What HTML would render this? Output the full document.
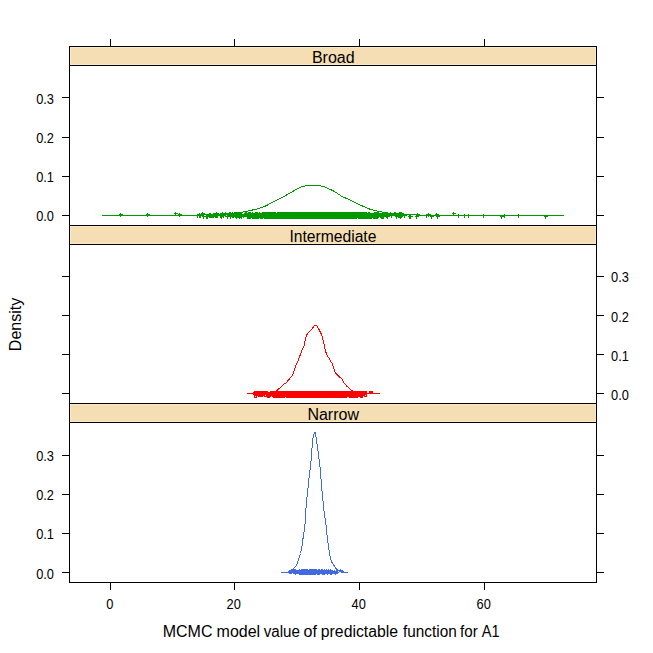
<!DOCTYPE html>
<html><head><meta charset="utf-8"><title>densityplot</title>
<style>html,body{margin:0;padding:0;background:#fff;width:653px;height:653px;overflow:hidden}svg{display:block}text{font-family:"Liberation Sans",Arial,sans-serif;fill:#000}</style>
</head><body>
<svg width="653" height="653" viewBox="0 0 653 653">
<rect width="653" height="653" fill="#fff"/>
<rect x="70" y="47" width="526" height="18" fill="#f5deb3"/>
<rect x="70.5" y="47.5" width="525" height="17" fill="none" stroke="#fbe7c3" stroke-width="1"/>
<rect x="70" y="226" width="526" height="18" fill="#f5deb3"/>
<rect x="70.5" y="226.5" width="525" height="17" fill="none" stroke="#fbe7c3" stroke-width="1"/>
<rect x="70" y="404" width="526" height="18" fill="#f5deb3"/>
<rect x="70.5" y="404.5" width="525" height="17" fill="none" stroke="#fbe7c3" stroke-width="1"/>
<rect x="69" y="46" width="528" height="1" fill="#000"/>
<rect x="69" y="65" width="528" height="1" fill="#000"/>
<rect x="69" y="225" width="528" height="1" fill="#000"/>
<rect x="69" y="244" width="528" height="1" fill="#000"/>
<rect x="69" y="403" width="528" height="1" fill="#000"/>
<rect x="69" y="422" width="528" height="1" fill="#000"/>
<rect x="69" y="582" width="528" height="1" fill="#000"/>
<rect x="69" y="46" width="1" height="537" fill="#000"/>
<rect x="596" y="46" width="1" height="537" fill="#000"/>
<rect x="110" y="39" width="1" height="7" fill="#000"/>
<rect x="110" y="583" width="1" height="7" fill="#000"/>
<rect x="234" y="39" width="1" height="7" fill="#000"/>
<rect x="234" y="583" width="1" height="7" fill="#000"/>
<rect x="359" y="39" width="1" height="7" fill="#000"/>
<rect x="359" y="583" width="1" height="7" fill="#000"/>
<rect x="484" y="39" width="1" height="7" fill="#000"/>
<rect x="484" y="583" width="1" height="7" fill="#000"/>
<rect x="62" y="97" width="7" height="1" fill="#000"/>
<rect x="597" y="97" width="7" height="1" fill="#000"/>
<rect x="62" y="137" width="7" height="1" fill="#000"/>
<rect x="597" y="137" width="7" height="1" fill="#000"/>
<rect x="62" y="176" width="7" height="1" fill="#000"/>
<rect x="597" y="176" width="7" height="1" fill="#000"/>
<rect x="62" y="215" width="7" height="1" fill="#000"/>
<rect x="597" y="215" width="7" height="1" fill="#000"/>
<rect x="62" y="276" width="7" height="1" fill="#000"/>
<rect x="597" y="276" width="7" height="1" fill="#000"/>
<rect x="62" y="315" width="7" height="1" fill="#000"/>
<rect x="597" y="315" width="7" height="1" fill="#000"/>
<rect x="62" y="354" width="7" height="1" fill="#000"/>
<rect x="597" y="354" width="7" height="1" fill="#000"/>
<rect x="62" y="393" width="7" height="1" fill="#000"/>
<rect x="597" y="393" width="7" height="1" fill="#000"/>
<rect x="62" y="455" width="7" height="1" fill="#000"/>
<rect x="597" y="455" width="7" height="1" fill="#000"/>
<rect x="62" y="494" width="7" height="1" fill="#000"/>
<rect x="597" y="494" width="7" height="1" fill="#000"/>
<rect x="62" y="533" width="7" height="1" fill="#000"/>
<rect x="597" y="533" width="7" height="1" fill="#000"/>
<rect x="62" y="572" width="7" height="1" fill="#000"/>
<rect x="597" y="572" width="7" height="1" fill="#000"/>
<polyline points="102.0,215.5 150.0,215.5 190.0,215.2 215.0,214.6 230.0,213.6 239.5,212.6 246.0,211.6 250.5,210.5 255.1,209.4 258.8,208.5 264.5,206.6 274.3,201.3 282.9,197.0 291.5,192.2 298.8,188.0 303.0,186.4 307.4,185.6 313.0,185.4 319.7,185.6 325.9,187.3 334.5,191.5 341.9,196.4 350.4,200.1 359.0,204.4 366.4,207.8 370.0,209.2 373.7,210.1 379.2,211.5 385.0,212.6 395.0,213.8 410.0,214.8 430.0,215.3 460.0,215.5 563.8,215.5" fill="none" stroke="#009900" stroke-width="1" shape-rendering="crispEdges"/>
<polyline points="246.9,393.5 265.0,393.3 272.0,392.5 276.7,390.8 279.8,388.0 283.5,384.3 285.9,383.1 289.0,379.4 292.1,375.8 293.9,371.5 295.7,366.0 298.2,360.4 300.0,355.5 301.9,350.6 304.3,345.1 305.5,339.0 306.8,334.7 309.2,331.6 312.3,328.6 314.7,325.3 316.6,325.7 319.2,329.8 321.6,334.7 322.9,339.6 324.1,344.5 325.3,350.6 327.2,355.5 329.6,359.2 332.1,363.5 333.9,369.0 335.7,373.3 338.8,376.4 341.9,378.8 343.7,382.5 346.8,386.2 351.7,390.5 356.0,392.5 362.0,393.3 379.7,393.5" fill="none" stroke="#ff0000" stroke-width="1" shape-rendering="crispEdges"/>
<polyline points="280.9,572.5 287.5,572.4 289.5,571.5 291.4,570.4 293.0,569.0 294.6,567.4 296.3,565.8 297.4,563.5 298.4,559.5 299.5,556.8 300.5,553.5 301.6,549.0 302.7,540.4 303.9,533.1 305.1,523.3 305.7,510.4 306.3,505.0 307.2,494.9 308.4,485.0 309.4,474.0 310.6,466.0 311.6,454.4 312.5,440.9 313.5,434.8 315.1,432.4 316.0,436.6 317.2,445.2 318.8,456.9 320.0,466.7 321.2,481.4 322.3,494.9 323.3,503.4 324.1,512.3 326.0,524.5 327.2,537.0 327.6,540.0 328.4,546.0 329.6,554.5 330.5,558.5 331.6,561.8 333.4,564.4 334.8,566.7 336.0,568.5 337.7,570.2 339.8,571.4 341.5,572.4 347.8,572.5" fill="none" stroke="#4169e1" stroke-width="1" shape-rendering="crispEdges"/>
<path d="M119 214h4v1h-4zM120 213h1v4h-1zM146 214h4v1h-4zM147 213h1v4h-1zM174 213h4v1h-4zM175 212h1v4h-1zM178 214h4v1h-4zM179 213h1v4h-1zM196 215h4v1h-4zM197 214h1v4h-1zM198 214h4v1h-4zM199 213h1v4h-1zM198 215h4v1h-4zM199 214h1v4h-1zM199 215h4v1h-4zM200 214h1v4h-1zM201 213h4v1h-4zM202 212h1v4h-1zM202 216h4v1h-4zM203 215h1v4h-1zM205 216h4v1h-4zM206 215h1v4h-1zM206 215h4v1h-4zM207 214h1v4h-1zM206 216h4v1h-4zM207 215h1v4h-1zM208 214h4v1h-4zM209 213h1v4h-1zM208 215h4v1h-4zM209 214h1v4h-1zM209 214h4v1h-4zM210 213h1v4h-1zM209 215h4v1h-4zM210 214h1v4h-1zM210 215h4v1h-4zM211 214h1v4h-1zM211 215h4v1h-4zM212 214h1v4h-1zM212 214h4v1h-4zM213 213h1v4h-1zM212 215h4v1h-4zM213 214h1v4h-1zM213 214h4v1h-4zM214 213h1v4h-1zM214 214h4v1h-4zM215 213h1v4h-1zM214 215h4v1h-4zM215 214h1v4h-1zM215 213h4v1h-4zM216 212h1v4h-1zM215 215h4v1h-4zM216 214h1v4h-1zM216 215h4v1h-4zM217 214h1v4h-1zM219 214h4v1h-4zM220 213h1v4h-1zM219 215h4v1h-4zM220 214h1v4h-1zM220 215h4v1h-4zM221 214h1v4h-1zM220 216h4v1h-4zM221 215h1v4h-1zM221 213h4v1h-4zM222 212h1v4h-1zM222 215h4v1h-4zM223 214h1v4h-1zM224 213h4v1h-4zM225 212h1v4h-1zM224 214h4v1h-4zM225 213h1v4h-1zM226 214h4v1h-4zM227 213h1v4h-1zM226 216h4v1h-4zM227 215h1v4h-1zM227 214h4v1h-4zM228 213h1v4h-1zM228 213h4v1h-4zM229 212h1v4h-1zM228 214h4v1h-4zM229 213h1v4h-1zM229 213h4v1h-4zM230 212h1v4h-1zM229 214h4v1h-4zM230 213h1v4h-1zM229 215h4v1h-4zM230 214h1v4h-1zM229 216h4v1h-4zM230 215h1v4h-1zM231 213h4v1h-4zM232 212h1v4h-1zM231 215h4v1h-4zM232 214h1v4h-1zM232 215h4v1h-4zM233 214h1v4h-1zM233 213h4v1h-4zM234 212h1v4h-1zM233 214h4v1h-4zM234 213h1v4h-1zM234 213h4v1h-4zM235 212h1v4h-1zM234 214h4v1h-4zM235 213h1v4h-1zM234 215h4v1h-4zM235 214h1v4h-1zM235 214h4v1h-4zM236 213h1v4h-1zM235 215h4v1h-4zM236 214h1v4h-1zM235 216h4v1h-4zM236 215h1v4h-1zM236 213h4v1h-4zM237 212h1v4h-1zM236 215h4v1h-4zM237 214h1v4h-1zM237 214h4v1h-4zM238 213h1v4h-1zM237 215h4v1h-4zM238 214h1v4h-1zM238 215h4v1h-4zM239 214h1v4h-1zM238 216h4v1h-4zM239 215h1v4h-1zM239 214h4v1h-4zM240 213h1v4h-1zM239 215h4v1h-4zM240 214h1v4h-1zM240 214h4v1h-4zM241 213h1v4h-1zM240 215h4v1h-4zM241 214h1v4h-1zM240 216h4v1h-4zM241 215h1v4h-1zM242 215h4v1h-4zM243 214h1v4h-1zM243 214h4v1h-4zM244 213h1v4h-1zM244 213h4v1h-4zM245 212h1v4h-1zM244 214h4v1h-4zM245 213h1v4h-1zM245 213h4v1h-4zM246 212h1v4h-1zM246 214h4v1h-4zM247 213h1v4h-1zM246 215h4v1h-4zM247 214h1v4h-1zM246 216h4v1h-4zM247 215h1v4h-1zM247 213h4v1h-4zM248 212h1v4h-1zM247 214h4v1h-4zM248 213h1v4h-1zM247 215h4v1h-4zM248 214h1v4h-1zM247 216h4v1h-4zM248 215h1v4h-1zM248 213h4v1h-4zM249 212h1v4h-1zM248 214h4v1h-4zM249 213h1v4h-1zM248 215h4v1h-4zM249 214h1v4h-1zM248 216h4v1h-4zM249 215h1v4h-1zM249 213h4v1h-4zM250 212h1v4h-1zM249 214h4v1h-4zM250 213h1v4h-1zM249 215h4v1h-4zM250 214h1v4h-1zM249 216h4v1h-4zM250 215h1v4h-1zM250 214h4v1h-4zM251 213h1v4h-1zM250 215h4v1h-4zM251 214h1v4h-1zM251 213h4v1h-4zM252 212h1v4h-1zM251 214h4v1h-4zM252 213h1v4h-1zM251 215h4v1h-4zM252 214h1v4h-1zM251 216h4v1h-4zM252 215h1v4h-1zM252 214h4v1h-4zM253 213h1v4h-1zM252 215h4v1h-4zM253 214h1v4h-1zM252 216h4v1h-4zM253 215h1v4h-1zM253 214h4v1h-4zM254 213h1v4h-1zM253 215h4v1h-4zM254 214h1v4h-1zM253 216h4v1h-4zM254 215h1v4h-1zM254 213h4v1h-4zM255 212h1v4h-1zM254 214h4v1h-4zM255 213h1v4h-1zM254 215h4v1h-4zM255 214h1v4h-1zM254 216h4v1h-4zM255 215h1v4h-1zM255 213h4v1h-4zM256 212h1v4h-1zM255 214h4v1h-4zM256 213h1v4h-1zM255 216h4v1h-4zM256 215h1v4h-1zM256 213h4v1h-4zM257 212h1v4h-1zM256 214h4v1h-4zM257 213h1v4h-1zM256 215h4v1h-4zM257 214h1v4h-1zM256 216h4v1h-4zM257 215h1v4h-1zM257 214h4v1h-4zM258 213h1v4h-1zM257 215h4v1h-4zM258 214h1v4h-1zM257 216h4v1h-4zM258 215h1v4h-1zM258 213h4v1h-4zM259 212h1v4h-1zM258 214h4v1h-4zM259 213h1v4h-1zM258 215h4v1h-4zM259 214h1v4h-1zM259 214h4v1h-4zM260 213h1v4h-1zM259 215h4v1h-4zM260 214h1v4h-1zM259 216h4v1h-4zM260 215h1v4h-1zM260 214h4v1h-4zM261 213h1v4h-1zM260 215h4v1h-4zM261 214h1v4h-1zM260 216h4v1h-4zM261 215h1v4h-1zM261 213h4v1h-4zM262 212h1v4h-1zM261 214h4v1h-4zM262 213h1v4h-1zM261 215h4v1h-4zM262 214h1v4h-1zM261 216h4v1h-4zM262 215h1v4h-1zM262 213h4v1h-4zM263 212h1v4h-1zM262 214h4v1h-4zM263 213h1v4h-1zM262 215h4v1h-4zM263 214h1v4h-1zM263 213h4v1h-4zM264 212h1v4h-1zM263 214h4v1h-4zM264 213h1v4h-1zM263 215h4v1h-4zM264 214h1v4h-1zM263 216h4v1h-4zM264 215h1v4h-1zM264 213h4v1h-4zM265 212h1v4h-1zM264 214h4v1h-4zM265 213h1v4h-1zM264 215h4v1h-4zM265 214h1v4h-1zM264 216h4v1h-4zM265 215h1v4h-1zM265 213h4v1h-4zM266 212h1v4h-1zM265 214h4v1h-4zM266 213h1v4h-1zM265 215h4v1h-4zM266 214h1v4h-1zM265 216h4v1h-4zM266 215h1v4h-1zM266 213h4v1h-4zM267 212h1v4h-1zM266 214h4v1h-4zM267 213h1v4h-1zM266 215h4v1h-4zM267 214h1v4h-1zM266 216h4v1h-4zM267 215h1v4h-1zM267 213h4v1h-4zM268 212h1v4h-1zM267 214h4v1h-4zM268 213h1v4h-1zM267 215h4v1h-4zM268 214h1v4h-1zM267 216h4v1h-4zM268 215h1v4h-1zM268 213h4v1h-4zM269 212h1v4h-1zM268 214h4v1h-4zM269 213h1v4h-1zM268 215h4v1h-4zM269 214h1v4h-1zM268 216h4v1h-4zM269 215h1v4h-1zM269 213h4v1h-4zM270 212h1v4h-1zM269 214h4v1h-4zM270 213h1v4h-1zM269 215h4v1h-4zM270 214h1v4h-1zM269 216h4v1h-4zM270 215h1v4h-1zM270 213h4v1h-4zM271 212h1v4h-1zM270 214h4v1h-4zM271 213h1v4h-1zM270 215h4v1h-4zM271 214h1v4h-1zM270 216h4v1h-4zM271 215h1v4h-1zM271 213h4v1h-4zM272 212h1v4h-1zM271 214h4v1h-4zM272 213h1v4h-1zM271 215h4v1h-4zM272 214h1v4h-1zM271 216h4v1h-4zM272 215h1v4h-1zM272 213h4v1h-4zM273 212h1v4h-1zM272 214h4v1h-4zM273 213h1v4h-1zM272 215h4v1h-4zM273 214h1v4h-1zM272 216h4v1h-4zM273 215h1v4h-1zM273 213h4v1h-4zM274 212h1v4h-1zM273 214h4v1h-4zM274 213h1v4h-1zM273 215h4v1h-4zM274 214h1v4h-1zM273 216h4v1h-4zM274 215h1v4h-1zM274 213h4v1h-4zM275 212h1v4h-1zM274 214h4v1h-4zM275 213h1v4h-1zM274 215h4v1h-4zM275 214h1v4h-1zM274 216h4v1h-4zM275 215h1v4h-1zM275 214h4v1h-4zM276 213h1v4h-1zM275 215h4v1h-4zM276 214h1v4h-1zM275 216h4v1h-4zM276 215h1v4h-1zM276 213h4v1h-4zM277 212h1v4h-1zM276 214h4v1h-4zM277 213h1v4h-1zM276 215h4v1h-4zM277 214h1v4h-1zM276 216h4v1h-4zM277 215h1v4h-1zM277 213h4v1h-4zM278 212h1v4h-1zM277 214h4v1h-4zM278 213h1v4h-1zM277 215h4v1h-4zM278 214h1v4h-1zM277 216h4v1h-4zM278 215h1v4h-1zM278 213h4v1h-4zM279 212h1v4h-1zM278 214h4v1h-4zM279 213h1v4h-1zM278 215h4v1h-4zM279 214h1v4h-1zM278 216h4v1h-4zM279 215h1v4h-1zM279 213h4v1h-4zM280 212h1v4h-1zM279 214h4v1h-4zM280 213h1v4h-1zM279 215h4v1h-4zM280 214h1v4h-1zM279 216h4v1h-4zM280 215h1v4h-1zM280 213h4v1h-4zM281 212h1v4h-1zM280 214h4v1h-4zM281 213h1v4h-1zM280 215h4v1h-4zM281 214h1v4h-1zM280 216h4v1h-4zM281 215h1v4h-1zM281 213h4v1h-4zM282 212h1v4h-1zM281 214h4v1h-4zM282 213h1v4h-1zM281 215h4v1h-4zM282 214h1v4h-1zM281 216h4v1h-4zM282 215h1v4h-1zM282 213h4v1h-4zM283 212h1v4h-1zM282 214h4v1h-4zM283 213h1v4h-1zM282 215h4v1h-4zM283 214h1v4h-1zM282 216h4v1h-4zM283 215h1v4h-1zM283 213h4v1h-4zM284 212h1v4h-1zM283 214h4v1h-4zM284 213h1v4h-1zM283 215h4v1h-4zM284 214h1v4h-1zM283 216h4v1h-4zM284 215h1v4h-1zM284 213h4v1h-4zM285 212h1v4h-1zM284 214h4v1h-4zM285 213h1v4h-1zM284 215h4v1h-4zM285 214h1v4h-1zM284 216h4v1h-4zM285 215h1v4h-1zM285 213h4v1h-4zM286 212h1v4h-1zM285 214h4v1h-4zM286 213h1v4h-1zM285 215h4v1h-4zM286 214h1v4h-1zM285 216h4v1h-4zM286 215h1v4h-1zM286 213h4v1h-4zM287 212h1v4h-1zM286 214h4v1h-4zM287 213h1v4h-1zM286 215h4v1h-4zM287 214h1v4h-1zM286 216h4v1h-4zM287 215h1v4h-1zM287 213h4v1h-4zM288 212h1v4h-1zM287 214h4v1h-4zM288 213h1v4h-1zM287 215h4v1h-4zM288 214h1v4h-1zM287 216h4v1h-4zM288 215h1v4h-1zM288 213h4v1h-4zM289 212h1v4h-1zM288 214h4v1h-4zM289 213h1v4h-1zM288 215h4v1h-4zM289 214h1v4h-1zM288 216h4v1h-4zM289 215h1v4h-1zM289 213h4v1h-4zM290 212h1v4h-1zM289 214h4v1h-4zM290 213h1v4h-1zM289 215h4v1h-4zM290 214h1v4h-1zM289 216h4v1h-4zM290 215h1v4h-1zM290 213h4v1h-4zM291 212h1v4h-1zM290 214h4v1h-4zM291 213h1v4h-1zM290 215h4v1h-4zM291 214h1v4h-1zM290 216h4v1h-4zM291 215h1v4h-1zM291 213h4v1h-4zM292 212h1v4h-1zM291 214h4v1h-4zM292 213h1v4h-1zM291 215h4v1h-4zM292 214h1v4h-1zM291 216h4v1h-4zM292 215h1v4h-1zM292 213h4v1h-4zM293 212h1v4h-1zM292 214h4v1h-4zM293 213h1v4h-1zM292 215h4v1h-4zM293 214h1v4h-1zM292 216h4v1h-4zM293 215h1v4h-1zM293 213h4v1h-4zM294 212h1v4h-1zM293 214h4v1h-4zM294 213h1v4h-1zM293 215h4v1h-4zM294 214h1v4h-1zM293 216h4v1h-4zM294 215h1v4h-1zM294 213h4v1h-4zM295 212h1v4h-1zM294 214h4v1h-4zM295 213h1v4h-1zM294 215h4v1h-4zM295 214h1v4h-1zM294 216h4v1h-4zM295 215h1v4h-1zM295 213h4v1h-4zM296 212h1v4h-1zM295 214h4v1h-4zM296 213h1v4h-1zM295 215h4v1h-4zM296 214h1v4h-1zM295 216h4v1h-4zM296 215h1v4h-1zM296 213h4v1h-4zM297 212h1v4h-1zM296 214h4v1h-4zM297 213h1v4h-1zM296 215h4v1h-4zM297 214h1v4h-1zM296 216h4v1h-4zM297 215h1v4h-1zM297 213h4v1h-4zM298 212h1v4h-1zM297 214h4v1h-4zM298 213h1v4h-1zM297 215h4v1h-4zM298 214h1v4h-1zM297 216h4v1h-4zM298 215h1v4h-1zM298 213h4v1h-4zM299 212h1v4h-1zM298 214h4v1h-4zM299 213h1v4h-1zM298 215h4v1h-4zM299 214h1v4h-1zM298 216h4v1h-4zM299 215h1v4h-1zM299 213h4v1h-4zM300 212h1v4h-1zM299 214h4v1h-4zM300 213h1v4h-1zM299 215h4v1h-4zM300 214h1v4h-1zM299 216h4v1h-4zM300 215h1v4h-1zM300 213h4v1h-4zM301 212h1v4h-1zM300 214h4v1h-4zM301 213h1v4h-1zM300 215h4v1h-4zM301 214h1v4h-1zM300 216h4v1h-4zM301 215h1v4h-1zM301 213h4v1h-4zM302 212h1v4h-1zM301 214h4v1h-4zM302 213h1v4h-1zM301 215h4v1h-4zM302 214h1v4h-1zM301 216h4v1h-4zM302 215h1v4h-1zM302 213h4v1h-4zM303 212h1v4h-1zM302 214h4v1h-4zM303 213h1v4h-1zM302 215h4v1h-4zM303 214h1v4h-1zM302 216h4v1h-4zM303 215h1v4h-1zM303 213h4v1h-4zM304 212h1v4h-1zM303 214h4v1h-4zM304 213h1v4h-1zM303 215h4v1h-4zM304 214h1v4h-1zM303 216h4v1h-4zM304 215h1v4h-1zM304 213h4v1h-4zM305 212h1v4h-1zM304 214h4v1h-4zM305 213h1v4h-1zM304 215h4v1h-4zM305 214h1v4h-1zM304 216h4v1h-4zM305 215h1v4h-1zM305 213h4v1h-4zM306 212h1v4h-1zM305 214h4v1h-4zM306 213h1v4h-1zM305 215h4v1h-4zM306 214h1v4h-1zM305 216h4v1h-4zM306 215h1v4h-1zM306 213h4v1h-4zM307 212h1v4h-1zM306 214h4v1h-4zM307 213h1v4h-1zM306 215h4v1h-4zM307 214h1v4h-1zM306 216h4v1h-4zM307 215h1v4h-1zM307 213h4v1h-4zM308 212h1v4h-1zM307 214h4v1h-4zM308 213h1v4h-1zM307 215h4v1h-4zM308 214h1v4h-1zM307 216h4v1h-4zM308 215h1v4h-1zM308 213h4v1h-4zM309 212h1v4h-1zM308 214h4v1h-4zM309 213h1v4h-1zM308 215h4v1h-4zM309 214h1v4h-1zM308 216h4v1h-4zM309 215h1v4h-1zM309 213h4v1h-4zM310 212h1v4h-1zM309 214h4v1h-4zM310 213h1v4h-1zM309 215h4v1h-4zM310 214h1v4h-1zM309 216h4v1h-4zM310 215h1v4h-1zM310 213h4v1h-4zM311 212h1v4h-1zM310 214h4v1h-4zM311 213h1v4h-1zM310 215h4v1h-4zM311 214h1v4h-1zM310 216h4v1h-4zM311 215h1v4h-1zM311 213h4v1h-4zM312 212h1v4h-1zM311 214h4v1h-4zM312 213h1v4h-1zM311 215h4v1h-4zM312 214h1v4h-1zM311 216h4v1h-4zM312 215h1v4h-1zM312 213h4v1h-4zM313 212h1v4h-1zM312 214h4v1h-4zM313 213h1v4h-1zM312 215h4v1h-4zM313 214h1v4h-1zM312 216h4v1h-4zM313 215h1v4h-1zM313 213h4v1h-4zM314 212h1v4h-1zM313 214h4v1h-4zM314 213h1v4h-1zM313 215h4v1h-4zM314 214h1v4h-1zM313 216h4v1h-4zM314 215h1v4h-1zM314 213h4v1h-4zM315 212h1v4h-1zM314 214h4v1h-4zM315 213h1v4h-1zM314 215h4v1h-4zM315 214h1v4h-1zM314 216h4v1h-4zM315 215h1v4h-1zM315 213h4v1h-4zM316 212h1v4h-1zM315 214h4v1h-4zM316 213h1v4h-1zM315 215h4v1h-4zM316 214h1v4h-1zM315 216h4v1h-4zM316 215h1v4h-1zM316 213h4v1h-4zM317 212h1v4h-1zM316 214h4v1h-4zM317 213h1v4h-1zM316 215h4v1h-4zM317 214h1v4h-1zM316 216h4v1h-4zM317 215h1v4h-1zM317 213h4v1h-4zM318 212h1v4h-1zM317 214h4v1h-4zM318 213h1v4h-1zM317 215h4v1h-4zM318 214h1v4h-1zM317 216h4v1h-4zM318 215h1v4h-1zM318 213h4v1h-4zM319 212h1v4h-1zM318 214h4v1h-4zM319 213h1v4h-1zM318 215h4v1h-4zM319 214h1v4h-1zM318 216h4v1h-4zM319 215h1v4h-1zM319 213h4v1h-4zM320 212h1v4h-1zM319 214h4v1h-4zM320 213h1v4h-1zM319 215h4v1h-4zM320 214h1v4h-1zM319 216h4v1h-4zM320 215h1v4h-1zM320 213h4v1h-4zM321 212h1v4h-1zM320 214h4v1h-4zM321 213h1v4h-1zM320 215h4v1h-4zM321 214h1v4h-1zM320 216h4v1h-4zM321 215h1v4h-1zM321 213h4v1h-4zM322 212h1v4h-1zM321 214h4v1h-4zM322 213h1v4h-1zM321 215h4v1h-4zM322 214h1v4h-1zM321 216h4v1h-4zM322 215h1v4h-1zM322 213h4v1h-4zM323 212h1v4h-1zM322 214h4v1h-4zM323 213h1v4h-1zM322 215h4v1h-4zM323 214h1v4h-1zM322 216h4v1h-4zM323 215h1v4h-1zM323 213h4v1h-4zM324 212h1v4h-1zM323 214h4v1h-4zM324 213h1v4h-1zM323 215h4v1h-4zM324 214h1v4h-1zM323 216h4v1h-4zM324 215h1v4h-1zM324 213h4v1h-4zM325 212h1v4h-1zM324 214h4v1h-4zM325 213h1v4h-1zM324 215h4v1h-4zM325 214h1v4h-1zM324 216h4v1h-4zM325 215h1v4h-1zM325 213h4v1h-4zM326 212h1v4h-1zM325 214h4v1h-4zM326 213h1v4h-1zM325 215h4v1h-4zM326 214h1v4h-1zM325 216h4v1h-4zM326 215h1v4h-1zM326 213h4v1h-4zM327 212h1v4h-1zM326 214h4v1h-4zM327 213h1v4h-1zM326 215h4v1h-4zM327 214h1v4h-1zM326 216h4v1h-4zM327 215h1v4h-1zM327 213h4v1h-4zM328 212h1v4h-1zM327 214h4v1h-4zM328 213h1v4h-1zM327 215h4v1h-4zM328 214h1v4h-1zM327 216h4v1h-4zM328 215h1v4h-1zM328 213h4v1h-4zM329 212h1v4h-1zM328 214h4v1h-4zM329 213h1v4h-1zM328 215h4v1h-4zM329 214h1v4h-1zM328 216h4v1h-4zM329 215h1v4h-1zM329 213h4v1h-4zM330 212h1v4h-1zM329 214h4v1h-4zM330 213h1v4h-1zM329 215h4v1h-4zM330 214h1v4h-1zM329 216h4v1h-4zM330 215h1v4h-1zM330 213h4v1h-4zM331 212h1v4h-1zM330 214h4v1h-4zM331 213h1v4h-1zM330 215h4v1h-4zM331 214h1v4h-1zM330 216h4v1h-4zM331 215h1v4h-1zM331 213h4v1h-4zM332 212h1v4h-1zM331 214h4v1h-4zM332 213h1v4h-1zM331 215h4v1h-4zM332 214h1v4h-1zM331 216h4v1h-4zM332 215h1v4h-1zM332 213h4v1h-4zM333 212h1v4h-1zM332 214h4v1h-4zM333 213h1v4h-1zM332 215h4v1h-4zM333 214h1v4h-1zM332 216h4v1h-4zM333 215h1v4h-1zM333 213h4v1h-4zM334 212h1v4h-1zM333 214h4v1h-4zM334 213h1v4h-1zM333 215h4v1h-4zM334 214h1v4h-1zM333 216h4v1h-4zM334 215h1v4h-1zM334 213h4v1h-4zM335 212h1v4h-1zM334 214h4v1h-4zM335 213h1v4h-1zM334 215h4v1h-4zM335 214h1v4h-1zM334 216h4v1h-4zM335 215h1v4h-1zM335 213h4v1h-4zM336 212h1v4h-1zM335 214h4v1h-4zM336 213h1v4h-1zM335 215h4v1h-4zM336 214h1v4h-1zM335 216h4v1h-4zM336 215h1v4h-1zM336 213h4v1h-4zM337 212h1v4h-1zM336 214h4v1h-4zM337 213h1v4h-1zM336 215h4v1h-4zM337 214h1v4h-1zM336 216h4v1h-4zM337 215h1v4h-1zM337 213h4v1h-4zM338 212h1v4h-1zM337 214h4v1h-4zM338 213h1v4h-1zM337 215h4v1h-4zM338 214h1v4h-1zM337 216h4v1h-4zM338 215h1v4h-1zM338 213h4v1h-4zM339 212h1v4h-1zM338 214h4v1h-4zM339 213h1v4h-1zM338 215h4v1h-4zM339 214h1v4h-1zM338 216h4v1h-4zM339 215h1v4h-1zM339 213h4v1h-4zM340 212h1v4h-1zM339 214h4v1h-4zM340 213h1v4h-1zM339 215h4v1h-4zM340 214h1v4h-1zM339 216h4v1h-4zM340 215h1v4h-1zM340 213h4v1h-4zM341 212h1v4h-1zM340 214h4v1h-4zM341 213h1v4h-1zM340 215h4v1h-4zM341 214h1v4h-1zM340 216h4v1h-4zM341 215h1v4h-1zM341 213h4v1h-4zM342 212h1v4h-1zM341 214h4v1h-4zM342 213h1v4h-1zM341 215h4v1h-4zM342 214h1v4h-1zM341 216h4v1h-4zM342 215h1v4h-1zM342 213h4v1h-4zM343 212h1v4h-1zM342 214h4v1h-4zM343 213h1v4h-1zM342 215h4v1h-4zM343 214h1v4h-1zM342 216h4v1h-4zM343 215h1v4h-1zM343 213h4v1h-4zM344 212h1v4h-1zM343 214h4v1h-4zM344 213h1v4h-1zM343 215h4v1h-4zM344 214h1v4h-1zM343 216h4v1h-4zM344 215h1v4h-1zM344 213h4v1h-4zM345 212h1v4h-1zM344 214h4v1h-4zM345 213h1v4h-1zM344 215h4v1h-4zM345 214h1v4h-1zM344 216h4v1h-4zM345 215h1v4h-1zM345 213h4v1h-4zM346 212h1v4h-1zM345 214h4v1h-4zM346 213h1v4h-1zM345 215h4v1h-4zM346 214h1v4h-1zM345 216h4v1h-4zM346 215h1v4h-1zM346 213h4v1h-4zM347 212h1v4h-1zM346 214h4v1h-4zM347 213h1v4h-1zM346 215h4v1h-4zM347 214h1v4h-1zM346 216h4v1h-4zM347 215h1v4h-1zM347 213h4v1h-4zM348 212h1v4h-1zM347 214h4v1h-4zM348 213h1v4h-1zM347 215h4v1h-4zM348 214h1v4h-1zM347 216h4v1h-4zM348 215h1v4h-1zM348 213h4v1h-4zM349 212h1v4h-1zM348 214h4v1h-4zM349 213h1v4h-1zM348 215h4v1h-4zM349 214h1v4h-1zM348 216h4v1h-4zM349 215h1v4h-1zM349 213h4v1h-4zM350 212h1v4h-1zM349 214h4v1h-4zM350 213h1v4h-1zM349 215h4v1h-4zM350 214h1v4h-1zM349 216h4v1h-4zM350 215h1v4h-1zM350 213h4v1h-4zM351 212h1v4h-1zM350 214h4v1h-4zM351 213h1v4h-1zM350 215h4v1h-4zM351 214h1v4h-1zM350 216h4v1h-4zM351 215h1v4h-1zM351 213h4v1h-4zM352 212h1v4h-1zM351 214h4v1h-4zM352 213h1v4h-1zM351 215h4v1h-4zM352 214h1v4h-1zM351 216h4v1h-4zM352 215h1v4h-1zM352 213h4v1h-4zM353 212h1v4h-1zM352 214h4v1h-4zM353 213h1v4h-1zM352 215h4v1h-4zM353 214h1v4h-1zM352 216h4v1h-4zM353 215h1v4h-1zM353 213h4v1h-4zM354 212h1v4h-1zM353 214h4v1h-4zM354 213h1v4h-1zM353 215h4v1h-4zM354 214h1v4h-1zM353 216h4v1h-4zM354 215h1v4h-1zM354 213h4v1h-4zM355 212h1v4h-1zM354 214h4v1h-4zM355 213h1v4h-1zM354 215h4v1h-4zM355 214h1v4h-1zM354 216h4v1h-4zM355 215h1v4h-1zM355 213h4v1h-4zM356 212h1v4h-1zM355 214h4v1h-4zM356 213h1v4h-1zM355 215h4v1h-4zM356 214h1v4h-1zM355 216h4v1h-4zM356 215h1v4h-1zM356 213h4v1h-4zM357 212h1v4h-1zM356 214h4v1h-4zM357 213h1v4h-1zM356 215h4v1h-4zM357 214h1v4h-1zM357 213h4v1h-4zM358 212h1v4h-1zM357 214h4v1h-4zM358 213h1v4h-1zM357 215h4v1h-4zM358 214h1v4h-1zM357 216h4v1h-4zM358 215h1v4h-1zM358 213h4v1h-4zM359 212h1v4h-1zM358 214h4v1h-4zM359 213h1v4h-1zM358 215h4v1h-4zM359 214h1v4h-1zM358 216h4v1h-4zM359 215h1v4h-1zM359 213h4v1h-4zM360 212h1v4h-1zM359 214h4v1h-4zM360 213h1v4h-1zM359 215h4v1h-4zM360 214h1v4h-1zM359 216h4v1h-4zM360 215h1v4h-1zM360 213h4v1h-4zM361 212h1v4h-1zM360 214h4v1h-4zM361 213h1v4h-1zM360 215h4v1h-4zM361 214h1v4h-1zM360 216h4v1h-4zM361 215h1v4h-1zM361 213h4v1h-4zM362 212h1v4h-1zM361 214h4v1h-4zM362 213h1v4h-1zM361 215h4v1h-4zM362 214h1v4h-1zM361 216h4v1h-4zM362 215h1v4h-1zM362 213h4v1h-4zM363 212h1v4h-1zM362 214h4v1h-4zM363 213h1v4h-1zM362 215h4v1h-4zM363 214h1v4h-1zM362 216h4v1h-4zM363 215h1v4h-1zM363 213h4v1h-4zM364 212h1v4h-1zM363 214h4v1h-4zM364 213h1v4h-1zM363 215h4v1h-4zM364 214h1v4h-1zM363 216h4v1h-4zM364 215h1v4h-1zM364 213h4v1h-4zM365 212h1v4h-1zM364 214h4v1h-4zM365 213h1v4h-1zM364 215h4v1h-4zM365 214h1v4h-1zM364 216h4v1h-4zM365 215h1v4h-1zM365 213h4v1h-4zM366 212h1v4h-1zM365 215h4v1h-4zM366 214h1v4h-1zM365 216h4v1h-4zM366 215h1v4h-1zM366 214h4v1h-4zM367 213h1v4h-1zM366 215h4v1h-4zM367 214h1v4h-1zM366 216h4v1h-4zM367 215h1v4h-1zM367 213h4v1h-4zM368 212h1v4h-1zM367 214h4v1h-4zM368 213h1v4h-1zM367 215h4v1h-4zM368 214h1v4h-1zM367 216h4v1h-4zM368 215h1v4h-1zM368 213h4v1h-4zM369 212h1v4h-1zM368 215h4v1h-4zM369 214h1v4h-1zM368 216h4v1h-4zM369 215h1v4h-1zM369 214h4v1h-4zM370 213h1v4h-1zM369 215h4v1h-4zM370 214h1v4h-1zM369 216h4v1h-4zM370 215h1v4h-1zM370 214h4v1h-4zM371 213h1v4h-1zM370 215h4v1h-4zM371 214h1v4h-1zM370 216h4v1h-4zM371 215h1v4h-1zM371 214h4v1h-4zM372 213h1v4h-1zM371 215h4v1h-4zM372 214h1v4h-1zM372 214h4v1h-4zM373 213h1v4h-1zM372 215h4v1h-4zM373 214h1v4h-1zM372 216h4v1h-4zM373 215h1v4h-1zM373 213h4v1h-4zM374 212h1v4h-1zM373 216h4v1h-4zM374 215h1v4h-1zM374 213h4v1h-4zM375 212h1v4h-1zM374 214h4v1h-4zM375 213h1v4h-1zM374 215h4v1h-4zM375 214h1v4h-1zM374 216h4v1h-4zM375 215h1v4h-1zM375 213h4v1h-4zM376 212h1v4h-1zM375 214h4v1h-4zM376 213h1v4h-1zM375 215h4v1h-4zM376 214h1v4h-1zM375 216h4v1h-4zM376 215h1v4h-1zM376 213h4v1h-4zM377 212h1v4h-1zM376 214h4v1h-4zM377 213h1v4h-1zM376 215h4v1h-4zM377 214h1v4h-1zM376 216h4v1h-4zM377 215h1v4h-1zM377 213h4v1h-4zM378 212h1v4h-1zM377 215h4v1h-4zM378 214h1v4h-1zM378 214h4v1h-4zM379 213h1v4h-1zM379 214h4v1h-4zM380 213h1v4h-1zM379 215h4v1h-4zM380 214h1v4h-1zM380 214h4v1h-4zM381 213h1v4h-1zM380 216h4v1h-4zM381 215h1v4h-1zM381 214h4v1h-4zM382 213h1v4h-1zM381 215h4v1h-4zM382 214h1v4h-1zM381 216h4v1h-4zM382 215h1v4h-1zM382 213h4v1h-4zM383 212h1v4h-1zM382 214h4v1h-4zM383 213h1v4h-1zM382 216h4v1h-4zM383 215h1v4h-1zM383 213h4v1h-4zM384 212h1v4h-1zM384 213h4v1h-4zM385 212h1v4h-1zM384 214h4v1h-4zM385 213h1v4h-1zM385 214h4v1h-4zM386 213h1v4h-1zM385 215h4v1h-4zM386 214h1v4h-1zM386 214h4v1h-4zM387 213h1v4h-1zM386 215h4v1h-4zM387 214h1v4h-1zM386 216h4v1h-4zM387 215h1v4h-1zM387 214h4v1h-4zM388 213h1v4h-1zM389 213h4v1h-4zM390 212h1v4h-1zM390 214h4v1h-4zM391 213h1v4h-1zM390 215h4v1h-4zM391 214h1v4h-1zM393 213h4v1h-4zM394 212h1v4h-1zM394 213h4v1h-4zM395 212h1v4h-1zM395 214h4v1h-4zM396 213h1v4h-1zM395 216h4v1h-4zM396 215h1v4h-1zM397 215h4v1h-4zM398 214h1v4h-1zM398 213h4v1h-4zM399 212h1v4h-1zM398 215h4v1h-4zM399 214h1v4h-1zM399 213h4v1h-4zM400 212h1v4h-1zM399 215h4v1h-4zM400 214h1v4h-1zM399 216h4v1h-4zM400 215h1v4h-1zM400 213h4v1h-4zM401 212h1v4h-1zM400 215h4v1h-4zM401 214h1v4h-1zM403 215h4v1h-4zM404 214h1v4h-1zM408 216h4v1h-4zM409 215h1v4h-1zM409 216h4v1h-4zM410 215h1v4h-1zM415 216h4v1h-4zM416 215h1v4h-1zM416 214h4v1h-4zM417 213h1v4h-1zM425 215h4v1h-4zM426 214h1v4h-1zM427 214h4v1h-4zM428 213h1v4h-1zM430 216h4v1h-4zM431 215h1v4h-1zM435 214h4v1h-4zM436 213h1v4h-1zM436 216h4v1h-4zM437 215h1v4h-1zM452 213h4v1h-4zM453 212h1v4h-1zM457 215h4v1h-4zM458 214h1v4h-1zM463 215h4v1h-4zM464 214h1v4h-1zM467 215h4v1h-4zM468 214h1v4h-1zM482 215h4v1h-4zM483 214h1v4h-1zM500 216h4v1h-4zM501 215h1v4h-1zM503 215h4v1h-4zM504 214h1v4h-1zM517 215h4v1h-4zM518 214h1v4h-1zM544 216h4v1h-4zM545 215h1v4h-1z" fill="#009900"/>
<path d="M253 392h3v1h-3zM253 394h3v1h-3zM253 393h1v1h-1zM255 393h1v1h-1zM254 391h3v1h-3zM254 393h3v1h-3zM254 392h1v1h-1zM256 392h1v1h-1zM254 395h3v1h-3zM254 397h3v1h-3zM254 396h1v1h-1zM256 396h1v1h-1zM255 392h3v1h-3zM255 394h3v1h-3zM255 393h1v1h-1zM257 393h1v1h-1zM256 391h3v1h-3zM256 393h3v1h-3zM256 392h1v1h-1zM258 392h1v1h-1zM257 393h3v1h-3zM257 395h3v1h-3zM257 394h1v1h-1zM259 394h1v1h-1zM258 392h3v1h-3zM258 394h3v1h-3zM258 393h1v1h-1zM260 393h1v1h-1zM258 393h3v1h-3zM258 395h3v1h-3zM258 394h1v1h-1zM260 394h1v1h-1zM258 394h3v1h-3zM258 396h3v1h-3zM258 395h1v1h-1zM260 395h1v1h-1zM259 391h3v1h-3zM259 393h3v1h-3zM259 392h1v1h-1zM261 392h1v1h-1zM259 393h3v1h-3zM259 395h3v1h-3zM259 394h1v1h-1zM261 394h1v1h-1zM260 394h3v1h-3zM260 396h3v1h-3zM260 395h1v1h-1zM262 395h1v1h-1zM261 391h3v1h-3zM261 393h3v1h-3zM261 392h1v1h-1zM263 392h1v1h-1zM261 392h3v1h-3zM261 394h3v1h-3zM261 393h1v1h-1zM263 393h1v1h-1zM261 393h3v1h-3zM261 395h3v1h-3zM261 394h1v1h-1zM263 394h1v1h-1zM263 391h3v1h-3zM263 393h3v1h-3zM263 392h1v1h-1zM265 392h1v1h-1zM264 391h3v1h-3zM264 393h3v1h-3zM264 392h1v1h-1zM266 392h1v1h-1zM264 392h3v1h-3zM264 394h3v1h-3zM264 393h1v1h-1zM266 393h1v1h-1zM264 394h3v1h-3zM264 396h3v1h-3zM264 395h1v1h-1zM266 395h1v1h-1zM265 391h3v1h-3zM265 393h3v1h-3zM265 392h1v1h-1zM267 392h1v1h-1zM265 392h3v1h-3zM265 394h3v1h-3zM265 393h1v1h-1zM267 393h1v1h-1zM266 393h3v1h-3zM266 395h3v1h-3zM266 394h1v1h-1zM268 394h1v1h-1zM266 394h3v1h-3zM266 396h3v1h-3zM266 395h1v1h-1zM268 395h1v1h-1zM267 394h3v1h-3zM267 396h3v1h-3zM267 395h1v1h-1zM269 395h1v1h-1zM267 395h3v1h-3zM267 397h3v1h-3zM267 396h1v1h-1zM269 396h1v1h-1zM268 392h3v1h-3zM268 394h3v1h-3zM268 393h1v1h-1zM270 393h1v1h-1zM268 393h3v1h-3zM268 395h3v1h-3zM268 394h1v1h-1zM270 394h1v1h-1zM268 394h3v1h-3zM268 396h3v1h-3zM268 395h1v1h-1zM270 395h1v1h-1zM269 393h3v1h-3zM269 395h3v1h-3zM269 394h1v1h-1zM271 394h1v1h-1zM270 391h3v1h-3zM270 393h3v1h-3zM270 392h1v1h-1zM272 392h1v1h-1zM270 393h3v1h-3zM270 395h3v1h-3zM270 394h1v1h-1zM272 394h1v1h-1zM271 392h3v1h-3zM271 394h3v1h-3zM271 393h1v1h-1zM273 393h1v1h-1zM272 391h3v1h-3zM272 393h3v1h-3zM272 392h1v1h-1zM274 392h1v1h-1zM272 392h3v1h-3zM272 394h3v1h-3zM272 393h1v1h-1zM274 393h1v1h-1zM272 393h3v1h-3zM272 395h3v1h-3zM272 394h1v1h-1zM274 394h1v1h-1zM272 394h3v1h-3zM272 396h3v1h-3zM272 395h1v1h-1zM274 395h1v1h-1zM273 393h3v1h-3zM273 395h3v1h-3zM273 394h1v1h-1zM275 394h1v1h-1zM273 395h3v1h-3zM273 397h3v1h-3zM273 396h1v1h-1zM275 396h1v1h-1zM274 392h3v1h-3zM274 394h3v1h-3zM274 393h1v1h-1zM276 393h1v1h-1zM274 394h3v1h-3zM274 396h3v1h-3zM274 395h1v1h-1zM276 395h1v1h-1zM275 391h3v1h-3zM275 393h3v1h-3zM275 392h1v1h-1zM277 392h1v1h-1zM275 392h3v1h-3zM275 394h3v1h-3zM275 393h1v1h-1zM277 393h1v1h-1zM275 393h3v1h-3zM275 395h3v1h-3zM275 394h1v1h-1zM277 394h1v1h-1zM275 395h3v1h-3zM275 397h3v1h-3zM275 396h1v1h-1zM277 396h1v1h-1zM276 392h3v1h-3zM276 394h3v1h-3zM276 393h1v1h-1zM278 393h1v1h-1zM276 394h3v1h-3zM276 396h3v1h-3zM276 395h1v1h-1zM278 395h1v1h-1zM276 395h3v1h-3zM276 397h3v1h-3zM276 396h1v1h-1zM278 396h1v1h-1zM277 391h3v1h-3zM277 393h3v1h-3zM277 392h1v1h-1zM279 392h1v1h-1zM277 392h3v1h-3zM277 394h3v1h-3zM277 393h1v1h-1zM279 393h1v1h-1zM277 393h3v1h-3zM277 395h3v1h-3zM277 394h1v1h-1zM279 394h1v1h-1zM277 394h3v1h-3zM277 396h3v1h-3zM277 395h1v1h-1zM279 395h1v1h-1zM278 391h3v1h-3zM278 393h3v1h-3zM278 392h1v1h-1zM280 392h1v1h-1zM278 392h3v1h-3zM278 394h3v1h-3zM278 393h1v1h-1zM280 393h1v1h-1zM278 394h3v1h-3zM278 396h3v1h-3zM278 395h1v1h-1zM280 395h1v1h-1zM278 395h3v1h-3zM278 397h3v1h-3zM278 396h1v1h-1zM280 396h1v1h-1zM279 391h3v1h-3zM279 393h3v1h-3zM279 392h1v1h-1zM281 392h1v1h-1zM279 392h3v1h-3zM279 394h3v1h-3zM279 393h1v1h-1zM281 393h1v1h-1zM279 393h3v1h-3zM279 395h3v1h-3zM279 394h1v1h-1zM281 394h1v1h-1zM279 394h3v1h-3zM279 396h3v1h-3zM279 395h1v1h-1zM281 395h1v1h-1zM280 391h3v1h-3zM280 393h3v1h-3zM280 392h1v1h-1zM282 392h1v1h-1zM280 392h3v1h-3zM280 394h3v1h-3zM280 393h1v1h-1zM282 393h1v1h-1zM280 393h3v1h-3zM280 395h3v1h-3zM280 394h1v1h-1zM282 394h1v1h-1zM281 391h3v1h-3zM281 393h3v1h-3zM281 392h1v1h-1zM283 392h1v1h-1zM281 392h3v1h-3zM281 394h3v1h-3zM281 393h1v1h-1zM283 393h1v1h-1zM281 393h3v1h-3zM281 395h3v1h-3zM281 394h1v1h-1zM283 394h1v1h-1zM281 394h3v1h-3zM281 396h3v1h-3zM281 395h1v1h-1zM283 395h1v1h-1zM281 395h3v1h-3zM281 397h3v1h-3zM281 396h1v1h-1zM283 396h1v1h-1zM282 391h3v1h-3zM282 393h3v1h-3zM282 392h1v1h-1zM284 392h1v1h-1zM282 392h3v1h-3zM282 394h3v1h-3zM282 393h1v1h-1zM284 393h1v1h-1zM282 393h3v1h-3zM282 395h3v1h-3zM282 394h1v1h-1zM284 394h1v1h-1zM282 395h3v1h-3zM282 397h3v1h-3zM282 396h1v1h-1zM284 396h1v1h-1zM283 391h3v1h-3zM283 393h3v1h-3zM283 392h1v1h-1zM285 392h1v1h-1zM283 392h3v1h-3zM283 394h3v1h-3zM283 393h1v1h-1zM285 393h1v1h-1zM283 393h3v1h-3zM283 395h3v1h-3zM283 394h1v1h-1zM285 394h1v1h-1zM283 394h3v1h-3zM283 396h3v1h-3zM283 395h1v1h-1zM285 395h1v1h-1zM284 391h3v1h-3zM284 393h3v1h-3zM284 392h1v1h-1zM286 392h1v1h-1zM284 392h3v1h-3zM284 394h3v1h-3zM284 393h1v1h-1zM286 393h1v1h-1zM284 393h3v1h-3zM284 395h3v1h-3zM284 394h1v1h-1zM286 394h1v1h-1zM285 391h3v1h-3zM285 393h3v1h-3zM285 392h1v1h-1zM287 392h1v1h-1zM285 392h3v1h-3zM285 394h3v1h-3zM285 393h1v1h-1zM287 393h1v1h-1zM285 393h3v1h-3zM285 395h3v1h-3zM285 394h1v1h-1zM287 394h1v1h-1zM285 394h3v1h-3zM285 396h3v1h-3zM285 395h1v1h-1zM287 395h1v1h-1zM286 391h3v1h-3zM286 393h3v1h-3zM286 392h1v1h-1zM288 392h1v1h-1zM286 392h3v1h-3zM286 394h3v1h-3zM286 393h1v1h-1zM288 393h1v1h-1zM286 393h3v1h-3zM286 395h3v1h-3zM286 394h1v1h-1zM288 394h1v1h-1zM286 394h3v1h-3zM286 396h3v1h-3zM286 395h1v1h-1zM288 395h1v1h-1zM286 395h3v1h-3zM286 397h3v1h-3zM286 396h1v1h-1zM288 396h1v1h-1zM287 391h3v1h-3zM287 393h3v1h-3zM287 392h1v1h-1zM289 392h1v1h-1zM287 392h3v1h-3zM287 394h3v1h-3zM287 393h1v1h-1zM289 393h1v1h-1zM287 393h3v1h-3zM287 395h3v1h-3zM287 394h1v1h-1zM289 394h1v1h-1zM287 394h3v1h-3zM287 396h3v1h-3zM287 395h1v1h-1zM289 395h1v1h-1zM288 391h3v1h-3zM288 393h3v1h-3zM288 392h1v1h-1zM290 392h1v1h-1zM288 392h3v1h-3zM288 394h3v1h-3zM288 393h1v1h-1zM290 393h1v1h-1zM288 393h3v1h-3zM288 395h3v1h-3zM288 394h1v1h-1zM290 394h1v1h-1zM288 394h3v1h-3zM288 396h3v1h-3zM288 395h1v1h-1zM290 395h1v1h-1zM288 395h3v1h-3zM288 397h3v1h-3zM288 396h1v1h-1zM290 396h1v1h-1zM289 391h3v1h-3zM289 393h3v1h-3zM289 392h1v1h-1zM291 392h1v1h-1zM289 392h3v1h-3zM289 394h3v1h-3zM289 393h1v1h-1zM291 393h1v1h-1zM289 393h3v1h-3zM289 395h3v1h-3zM289 394h1v1h-1zM291 394h1v1h-1zM289 394h3v1h-3zM289 396h3v1h-3zM289 395h1v1h-1zM291 395h1v1h-1zM289 395h3v1h-3zM289 397h3v1h-3zM289 396h1v1h-1zM291 396h1v1h-1zM290 391h3v1h-3zM290 393h3v1h-3zM290 392h1v1h-1zM292 392h1v1h-1zM290 392h3v1h-3zM290 394h3v1h-3zM290 393h1v1h-1zM292 393h1v1h-1zM290 393h3v1h-3zM290 395h3v1h-3zM290 394h1v1h-1zM292 394h1v1h-1zM290 394h3v1h-3zM290 396h3v1h-3zM290 395h1v1h-1zM292 395h1v1h-1zM290 395h3v1h-3zM290 397h3v1h-3zM290 396h1v1h-1zM292 396h1v1h-1zM291 391h3v1h-3zM291 393h3v1h-3zM291 392h1v1h-1zM293 392h1v1h-1zM291 392h3v1h-3zM291 394h3v1h-3zM291 393h1v1h-1zM293 393h1v1h-1zM291 393h3v1h-3zM291 395h3v1h-3zM291 394h1v1h-1zM293 394h1v1h-1zM291 394h3v1h-3zM291 396h3v1h-3zM291 395h1v1h-1zM293 395h1v1h-1zM291 395h3v1h-3zM291 397h3v1h-3zM291 396h1v1h-1zM293 396h1v1h-1zM292 391h3v1h-3zM292 393h3v1h-3zM292 392h1v1h-1zM294 392h1v1h-1zM292 392h3v1h-3zM292 394h3v1h-3zM292 393h1v1h-1zM294 393h1v1h-1zM292 393h3v1h-3zM292 395h3v1h-3zM292 394h1v1h-1zM294 394h1v1h-1zM292 394h3v1h-3zM292 396h3v1h-3zM292 395h1v1h-1zM294 395h1v1h-1zM293 391h3v1h-3zM293 393h3v1h-3zM293 392h1v1h-1zM295 392h1v1h-1zM293 392h3v1h-3zM293 394h3v1h-3zM293 393h1v1h-1zM295 393h1v1h-1zM293 393h3v1h-3zM293 395h3v1h-3zM293 394h1v1h-1zM295 394h1v1h-1zM293 394h3v1h-3zM293 396h3v1h-3zM293 395h1v1h-1zM295 395h1v1h-1zM294 391h3v1h-3zM294 393h3v1h-3zM294 392h1v1h-1zM296 392h1v1h-1zM294 392h3v1h-3zM294 394h3v1h-3zM294 393h1v1h-1zM296 393h1v1h-1zM294 393h3v1h-3zM294 395h3v1h-3zM294 394h1v1h-1zM296 394h1v1h-1zM294 394h3v1h-3zM294 396h3v1h-3zM294 395h1v1h-1zM296 395h1v1h-1zM294 395h3v1h-3zM294 397h3v1h-3zM294 396h1v1h-1zM296 396h1v1h-1zM295 391h3v1h-3zM295 393h3v1h-3zM295 392h1v1h-1zM297 392h1v1h-1zM295 392h3v1h-3zM295 394h3v1h-3zM295 393h1v1h-1zM297 393h1v1h-1zM295 393h3v1h-3zM295 395h3v1h-3zM295 394h1v1h-1zM297 394h1v1h-1zM295 394h3v1h-3zM295 396h3v1h-3zM295 395h1v1h-1zM297 395h1v1h-1zM295 395h3v1h-3zM295 397h3v1h-3zM295 396h1v1h-1zM297 396h1v1h-1zM296 391h3v1h-3zM296 393h3v1h-3zM296 392h1v1h-1zM298 392h1v1h-1zM296 392h3v1h-3zM296 394h3v1h-3zM296 393h1v1h-1zM298 393h1v1h-1zM296 393h3v1h-3zM296 395h3v1h-3zM296 394h1v1h-1zM298 394h1v1h-1zM296 394h3v1h-3zM296 396h3v1h-3zM296 395h1v1h-1zM298 395h1v1h-1zM296 395h3v1h-3zM296 397h3v1h-3zM296 396h1v1h-1zM298 396h1v1h-1zM297 391h3v1h-3zM297 393h3v1h-3zM297 392h1v1h-1zM299 392h1v1h-1zM297 392h3v1h-3zM297 394h3v1h-3zM297 393h1v1h-1zM299 393h1v1h-1zM297 393h3v1h-3zM297 395h3v1h-3zM297 394h1v1h-1zM299 394h1v1h-1zM297 394h3v1h-3zM297 396h3v1h-3zM297 395h1v1h-1zM299 395h1v1h-1zM297 395h3v1h-3zM297 397h3v1h-3zM297 396h1v1h-1zM299 396h1v1h-1zM298 391h3v1h-3zM298 393h3v1h-3zM298 392h1v1h-1zM300 392h1v1h-1zM298 392h3v1h-3zM298 394h3v1h-3zM298 393h1v1h-1zM300 393h1v1h-1zM298 393h3v1h-3zM298 395h3v1h-3zM298 394h1v1h-1zM300 394h1v1h-1zM298 394h3v1h-3zM298 396h3v1h-3zM298 395h1v1h-1zM300 395h1v1h-1zM298 395h3v1h-3zM298 397h3v1h-3zM298 396h1v1h-1zM300 396h1v1h-1zM299 391h3v1h-3zM299 393h3v1h-3zM299 392h1v1h-1zM301 392h1v1h-1zM299 392h3v1h-3zM299 394h3v1h-3zM299 393h1v1h-1zM301 393h1v1h-1zM299 393h3v1h-3zM299 395h3v1h-3zM299 394h1v1h-1zM301 394h1v1h-1zM299 394h3v1h-3zM299 396h3v1h-3zM299 395h1v1h-1zM301 395h1v1h-1zM299 395h3v1h-3zM299 397h3v1h-3zM299 396h1v1h-1zM301 396h1v1h-1zM300 391h3v1h-3zM300 393h3v1h-3zM300 392h1v1h-1zM302 392h1v1h-1zM300 392h3v1h-3zM300 394h3v1h-3zM300 393h1v1h-1zM302 393h1v1h-1zM300 393h3v1h-3zM300 395h3v1h-3zM300 394h1v1h-1zM302 394h1v1h-1zM300 394h3v1h-3zM300 396h3v1h-3zM300 395h1v1h-1zM302 395h1v1h-1zM300 395h3v1h-3zM300 397h3v1h-3zM300 396h1v1h-1zM302 396h1v1h-1zM301 391h3v1h-3zM301 393h3v1h-3zM301 392h1v1h-1zM303 392h1v1h-1zM301 392h3v1h-3zM301 394h3v1h-3zM301 393h1v1h-1zM303 393h1v1h-1zM301 393h3v1h-3zM301 395h3v1h-3zM301 394h1v1h-1zM303 394h1v1h-1zM301 394h3v1h-3zM301 396h3v1h-3zM301 395h1v1h-1zM303 395h1v1h-1zM301 395h3v1h-3zM301 397h3v1h-3zM301 396h1v1h-1zM303 396h1v1h-1zM302 391h3v1h-3zM302 393h3v1h-3zM302 392h1v1h-1zM304 392h1v1h-1zM302 392h3v1h-3zM302 394h3v1h-3zM302 393h1v1h-1zM304 393h1v1h-1zM302 393h3v1h-3zM302 395h3v1h-3zM302 394h1v1h-1zM304 394h1v1h-1zM302 394h3v1h-3zM302 396h3v1h-3zM302 395h1v1h-1zM304 395h1v1h-1zM302 395h3v1h-3zM302 397h3v1h-3zM302 396h1v1h-1zM304 396h1v1h-1zM303 391h3v1h-3zM303 393h3v1h-3zM303 392h1v1h-1zM305 392h1v1h-1zM303 392h3v1h-3zM303 394h3v1h-3zM303 393h1v1h-1zM305 393h1v1h-1zM303 393h3v1h-3zM303 395h3v1h-3zM303 394h1v1h-1zM305 394h1v1h-1zM303 394h3v1h-3zM303 396h3v1h-3zM303 395h1v1h-1zM305 395h1v1h-1zM303 395h3v1h-3zM303 397h3v1h-3zM303 396h1v1h-1zM305 396h1v1h-1zM304 391h3v1h-3zM304 393h3v1h-3zM304 392h1v1h-1zM306 392h1v1h-1zM304 392h3v1h-3zM304 394h3v1h-3zM304 393h1v1h-1zM306 393h1v1h-1zM304 393h3v1h-3zM304 395h3v1h-3zM304 394h1v1h-1zM306 394h1v1h-1zM304 394h3v1h-3zM304 396h3v1h-3zM304 395h1v1h-1zM306 395h1v1h-1zM304 395h3v1h-3zM304 397h3v1h-3zM304 396h1v1h-1zM306 396h1v1h-1zM305 391h3v1h-3zM305 393h3v1h-3zM305 392h1v1h-1zM307 392h1v1h-1zM305 392h3v1h-3zM305 394h3v1h-3zM305 393h1v1h-1zM307 393h1v1h-1zM305 393h3v1h-3zM305 395h3v1h-3zM305 394h1v1h-1zM307 394h1v1h-1zM305 394h3v1h-3zM305 396h3v1h-3zM305 395h1v1h-1zM307 395h1v1h-1zM305 395h3v1h-3zM305 397h3v1h-3zM305 396h1v1h-1zM307 396h1v1h-1zM306 391h3v1h-3zM306 393h3v1h-3zM306 392h1v1h-1zM308 392h1v1h-1zM306 392h3v1h-3zM306 394h3v1h-3zM306 393h1v1h-1zM308 393h1v1h-1zM306 393h3v1h-3zM306 395h3v1h-3zM306 394h1v1h-1zM308 394h1v1h-1zM306 394h3v1h-3zM306 396h3v1h-3zM306 395h1v1h-1zM308 395h1v1h-1zM306 395h3v1h-3zM306 397h3v1h-3zM306 396h1v1h-1zM308 396h1v1h-1zM307 391h3v1h-3zM307 393h3v1h-3zM307 392h1v1h-1zM309 392h1v1h-1zM307 392h3v1h-3zM307 394h3v1h-3zM307 393h1v1h-1zM309 393h1v1h-1zM307 393h3v1h-3zM307 395h3v1h-3zM307 394h1v1h-1zM309 394h1v1h-1zM307 394h3v1h-3zM307 396h3v1h-3zM307 395h1v1h-1zM309 395h1v1h-1zM307 395h3v1h-3zM307 397h3v1h-3zM307 396h1v1h-1zM309 396h1v1h-1zM308 391h3v1h-3zM308 393h3v1h-3zM308 392h1v1h-1zM310 392h1v1h-1zM308 392h3v1h-3zM308 394h3v1h-3zM308 393h1v1h-1zM310 393h1v1h-1zM308 393h3v1h-3zM308 395h3v1h-3zM308 394h1v1h-1zM310 394h1v1h-1zM308 394h3v1h-3zM308 396h3v1h-3zM308 395h1v1h-1zM310 395h1v1h-1zM308 395h3v1h-3zM308 397h3v1h-3zM308 396h1v1h-1zM310 396h1v1h-1zM309 391h3v1h-3zM309 393h3v1h-3zM309 392h1v1h-1zM311 392h1v1h-1zM309 392h3v1h-3zM309 394h3v1h-3zM309 393h1v1h-1zM311 393h1v1h-1zM309 393h3v1h-3zM309 395h3v1h-3zM309 394h1v1h-1zM311 394h1v1h-1zM309 394h3v1h-3zM309 396h3v1h-3zM309 395h1v1h-1zM311 395h1v1h-1zM309 395h3v1h-3zM309 397h3v1h-3zM309 396h1v1h-1zM311 396h1v1h-1zM310 391h3v1h-3zM310 393h3v1h-3zM310 392h1v1h-1zM312 392h1v1h-1zM310 392h3v1h-3zM310 394h3v1h-3zM310 393h1v1h-1zM312 393h1v1h-1zM310 393h3v1h-3zM310 395h3v1h-3zM310 394h1v1h-1zM312 394h1v1h-1zM310 394h3v1h-3zM310 396h3v1h-3zM310 395h1v1h-1zM312 395h1v1h-1zM310 395h3v1h-3zM310 397h3v1h-3zM310 396h1v1h-1zM312 396h1v1h-1zM311 391h3v1h-3zM311 393h3v1h-3zM311 392h1v1h-1zM313 392h1v1h-1zM311 392h3v1h-3zM311 394h3v1h-3zM311 393h1v1h-1zM313 393h1v1h-1zM311 393h3v1h-3zM311 395h3v1h-3zM311 394h1v1h-1zM313 394h1v1h-1zM311 394h3v1h-3zM311 396h3v1h-3zM311 395h1v1h-1zM313 395h1v1h-1zM311 395h3v1h-3zM311 397h3v1h-3zM311 396h1v1h-1zM313 396h1v1h-1zM312 391h3v1h-3zM312 393h3v1h-3zM312 392h1v1h-1zM314 392h1v1h-1zM312 392h3v1h-3zM312 394h3v1h-3zM312 393h1v1h-1zM314 393h1v1h-1zM312 393h3v1h-3zM312 395h3v1h-3zM312 394h1v1h-1zM314 394h1v1h-1zM312 394h3v1h-3zM312 396h3v1h-3zM312 395h1v1h-1zM314 395h1v1h-1zM312 395h3v1h-3zM312 397h3v1h-3zM312 396h1v1h-1zM314 396h1v1h-1zM313 391h3v1h-3zM313 393h3v1h-3zM313 392h1v1h-1zM315 392h1v1h-1zM313 392h3v1h-3zM313 394h3v1h-3zM313 393h1v1h-1zM315 393h1v1h-1zM313 393h3v1h-3zM313 395h3v1h-3zM313 394h1v1h-1zM315 394h1v1h-1zM313 394h3v1h-3zM313 396h3v1h-3zM313 395h1v1h-1zM315 395h1v1h-1zM313 395h3v1h-3zM313 397h3v1h-3zM313 396h1v1h-1zM315 396h1v1h-1zM314 391h3v1h-3zM314 393h3v1h-3zM314 392h1v1h-1zM316 392h1v1h-1zM314 392h3v1h-3zM314 394h3v1h-3zM314 393h1v1h-1zM316 393h1v1h-1zM314 393h3v1h-3zM314 395h3v1h-3zM314 394h1v1h-1zM316 394h1v1h-1zM314 394h3v1h-3zM314 396h3v1h-3zM314 395h1v1h-1zM316 395h1v1h-1zM314 395h3v1h-3zM314 397h3v1h-3zM314 396h1v1h-1zM316 396h1v1h-1zM315 391h3v1h-3zM315 393h3v1h-3zM315 392h1v1h-1zM317 392h1v1h-1zM315 392h3v1h-3zM315 394h3v1h-3zM315 393h1v1h-1zM317 393h1v1h-1zM315 393h3v1h-3zM315 395h3v1h-3zM315 394h1v1h-1zM317 394h1v1h-1zM315 394h3v1h-3zM315 396h3v1h-3zM315 395h1v1h-1zM317 395h1v1h-1zM316 391h3v1h-3zM316 393h3v1h-3zM316 392h1v1h-1zM318 392h1v1h-1zM316 392h3v1h-3zM316 394h3v1h-3zM316 393h1v1h-1zM318 393h1v1h-1zM316 393h3v1h-3zM316 395h3v1h-3zM316 394h1v1h-1zM318 394h1v1h-1zM316 394h3v1h-3zM316 396h3v1h-3zM316 395h1v1h-1zM318 395h1v1h-1zM316 395h3v1h-3zM316 397h3v1h-3zM316 396h1v1h-1zM318 396h1v1h-1zM317 391h3v1h-3zM317 393h3v1h-3zM317 392h1v1h-1zM319 392h1v1h-1zM317 392h3v1h-3zM317 394h3v1h-3zM317 393h1v1h-1zM319 393h1v1h-1zM317 393h3v1h-3zM317 395h3v1h-3zM317 394h1v1h-1zM319 394h1v1h-1zM317 394h3v1h-3zM317 396h3v1h-3zM317 395h1v1h-1zM319 395h1v1h-1zM317 395h3v1h-3zM317 397h3v1h-3zM317 396h1v1h-1zM319 396h1v1h-1zM318 391h3v1h-3zM318 393h3v1h-3zM318 392h1v1h-1zM320 392h1v1h-1zM318 392h3v1h-3zM318 394h3v1h-3zM318 393h1v1h-1zM320 393h1v1h-1zM318 393h3v1h-3zM318 395h3v1h-3zM318 394h1v1h-1zM320 394h1v1h-1zM318 394h3v1h-3zM318 396h3v1h-3zM318 395h1v1h-1zM320 395h1v1h-1zM318 395h3v1h-3zM318 397h3v1h-3zM318 396h1v1h-1zM320 396h1v1h-1zM319 391h3v1h-3zM319 393h3v1h-3zM319 392h1v1h-1zM321 392h1v1h-1zM319 392h3v1h-3zM319 394h3v1h-3zM319 393h1v1h-1zM321 393h1v1h-1zM319 393h3v1h-3zM319 395h3v1h-3zM319 394h1v1h-1zM321 394h1v1h-1zM319 394h3v1h-3zM319 396h3v1h-3zM319 395h1v1h-1zM321 395h1v1h-1zM319 395h3v1h-3zM319 397h3v1h-3zM319 396h1v1h-1zM321 396h1v1h-1zM320 391h3v1h-3zM320 393h3v1h-3zM320 392h1v1h-1zM322 392h1v1h-1zM320 392h3v1h-3zM320 394h3v1h-3zM320 393h1v1h-1zM322 393h1v1h-1zM320 393h3v1h-3zM320 395h3v1h-3zM320 394h1v1h-1zM322 394h1v1h-1zM320 394h3v1h-3zM320 396h3v1h-3zM320 395h1v1h-1zM322 395h1v1h-1zM320 395h3v1h-3zM320 397h3v1h-3zM320 396h1v1h-1zM322 396h1v1h-1zM321 391h3v1h-3zM321 393h3v1h-3zM321 392h1v1h-1zM323 392h1v1h-1zM321 392h3v1h-3zM321 394h3v1h-3zM321 393h1v1h-1zM323 393h1v1h-1zM321 393h3v1h-3zM321 395h3v1h-3zM321 394h1v1h-1zM323 394h1v1h-1zM321 394h3v1h-3zM321 396h3v1h-3zM321 395h1v1h-1zM323 395h1v1h-1zM321 395h3v1h-3zM321 397h3v1h-3zM321 396h1v1h-1zM323 396h1v1h-1zM322 391h3v1h-3zM322 393h3v1h-3zM322 392h1v1h-1zM324 392h1v1h-1zM322 392h3v1h-3zM322 394h3v1h-3zM322 393h1v1h-1zM324 393h1v1h-1zM322 393h3v1h-3zM322 395h3v1h-3zM322 394h1v1h-1zM324 394h1v1h-1zM322 394h3v1h-3zM322 396h3v1h-3zM322 395h1v1h-1zM324 395h1v1h-1zM322 395h3v1h-3zM322 397h3v1h-3zM322 396h1v1h-1zM324 396h1v1h-1zM323 391h3v1h-3zM323 393h3v1h-3zM323 392h1v1h-1zM325 392h1v1h-1zM323 392h3v1h-3zM323 394h3v1h-3zM323 393h1v1h-1zM325 393h1v1h-1zM323 393h3v1h-3zM323 395h3v1h-3zM323 394h1v1h-1zM325 394h1v1h-1zM323 394h3v1h-3zM323 396h3v1h-3zM323 395h1v1h-1zM325 395h1v1h-1zM323 395h3v1h-3zM323 397h3v1h-3zM323 396h1v1h-1zM325 396h1v1h-1zM324 391h3v1h-3zM324 393h3v1h-3zM324 392h1v1h-1zM326 392h1v1h-1zM324 392h3v1h-3zM324 394h3v1h-3zM324 393h1v1h-1zM326 393h1v1h-1zM324 393h3v1h-3zM324 395h3v1h-3zM324 394h1v1h-1zM326 394h1v1h-1zM324 394h3v1h-3zM324 396h3v1h-3zM324 395h1v1h-1zM326 395h1v1h-1zM324 395h3v1h-3zM324 397h3v1h-3zM324 396h1v1h-1zM326 396h1v1h-1zM325 391h3v1h-3zM325 393h3v1h-3zM325 392h1v1h-1zM327 392h1v1h-1zM325 392h3v1h-3zM325 394h3v1h-3zM325 393h1v1h-1zM327 393h1v1h-1zM325 393h3v1h-3zM325 395h3v1h-3zM325 394h1v1h-1zM327 394h1v1h-1zM325 394h3v1h-3zM325 396h3v1h-3zM325 395h1v1h-1zM327 395h1v1h-1zM325 395h3v1h-3zM325 397h3v1h-3zM325 396h1v1h-1zM327 396h1v1h-1zM326 391h3v1h-3zM326 393h3v1h-3zM326 392h1v1h-1zM328 392h1v1h-1zM326 392h3v1h-3zM326 394h3v1h-3zM326 393h1v1h-1zM328 393h1v1h-1zM326 393h3v1h-3zM326 395h3v1h-3zM326 394h1v1h-1zM328 394h1v1h-1zM326 394h3v1h-3zM326 396h3v1h-3zM326 395h1v1h-1zM328 395h1v1h-1zM326 395h3v1h-3zM326 397h3v1h-3zM326 396h1v1h-1zM328 396h1v1h-1zM327 391h3v1h-3zM327 393h3v1h-3zM327 392h1v1h-1zM329 392h1v1h-1zM327 392h3v1h-3zM327 394h3v1h-3zM327 393h1v1h-1zM329 393h1v1h-1zM327 393h3v1h-3zM327 395h3v1h-3zM327 394h1v1h-1zM329 394h1v1h-1zM327 394h3v1h-3zM327 396h3v1h-3zM327 395h1v1h-1zM329 395h1v1h-1zM327 395h3v1h-3zM327 397h3v1h-3zM327 396h1v1h-1zM329 396h1v1h-1zM328 391h3v1h-3zM328 393h3v1h-3zM328 392h1v1h-1zM330 392h1v1h-1zM328 392h3v1h-3zM328 394h3v1h-3zM328 393h1v1h-1zM330 393h1v1h-1zM328 393h3v1h-3zM328 395h3v1h-3zM328 394h1v1h-1zM330 394h1v1h-1zM328 394h3v1h-3zM328 396h3v1h-3zM328 395h1v1h-1zM330 395h1v1h-1zM328 395h3v1h-3zM328 397h3v1h-3zM328 396h1v1h-1zM330 396h1v1h-1zM329 391h3v1h-3zM329 393h3v1h-3zM329 392h1v1h-1zM331 392h1v1h-1zM329 392h3v1h-3zM329 394h3v1h-3zM329 393h1v1h-1zM331 393h1v1h-1zM329 393h3v1h-3zM329 395h3v1h-3zM329 394h1v1h-1zM331 394h1v1h-1zM329 394h3v1h-3zM329 396h3v1h-3zM329 395h1v1h-1zM331 395h1v1h-1zM329 395h3v1h-3zM329 397h3v1h-3zM329 396h1v1h-1zM331 396h1v1h-1zM330 391h3v1h-3zM330 393h3v1h-3zM330 392h1v1h-1zM332 392h1v1h-1zM330 392h3v1h-3zM330 394h3v1h-3zM330 393h1v1h-1zM332 393h1v1h-1zM330 393h3v1h-3zM330 395h3v1h-3zM330 394h1v1h-1zM332 394h1v1h-1zM330 394h3v1h-3zM330 396h3v1h-3zM330 395h1v1h-1zM332 395h1v1h-1zM330 395h3v1h-3zM330 397h3v1h-3zM330 396h1v1h-1zM332 396h1v1h-1zM331 391h3v1h-3zM331 393h3v1h-3zM331 392h1v1h-1zM333 392h1v1h-1zM331 392h3v1h-3zM331 394h3v1h-3zM331 393h1v1h-1zM333 393h1v1h-1zM331 393h3v1h-3zM331 395h3v1h-3zM331 394h1v1h-1zM333 394h1v1h-1zM331 394h3v1h-3zM331 396h3v1h-3zM331 395h1v1h-1zM333 395h1v1h-1zM331 395h3v1h-3zM331 397h3v1h-3zM331 396h1v1h-1zM333 396h1v1h-1zM332 391h3v1h-3zM332 393h3v1h-3zM332 392h1v1h-1zM334 392h1v1h-1zM332 392h3v1h-3zM332 394h3v1h-3zM332 393h1v1h-1zM334 393h1v1h-1zM332 393h3v1h-3zM332 395h3v1h-3zM332 394h1v1h-1zM334 394h1v1h-1zM332 394h3v1h-3zM332 396h3v1h-3zM332 395h1v1h-1zM334 395h1v1h-1zM332 395h3v1h-3zM332 397h3v1h-3zM332 396h1v1h-1zM334 396h1v1h-1zM333 391h3v1h-3zM333 393h3v1h-3zM333 392h1v1h-1zM335 392h1v1h-1zM333 392h3v1h-3zM333 394h3v1h-3zM333 393h1v1h-1zM335 393h1v1h-1zM333 393h3v1h-3zM333 395h3v1h-3zM333 394h1v1h-1zM335 394h1v1h-1zM333 394h3v1h-3zM333 396h3v1h-3zM333 395h1v1h-1zM335 395h1v1h-1zM333 395h3v1h-3zM333 397h3v1h-3zM333 396h1v1h-1zM335 396h1v1h-1zM334 391h3v1h-3zM334 393h3v1h-3zM334 392h1v1h-1zM336 392h1v1h-1zM334 392h3v1h-3zM334 394h3v1h-3zM334 393h1v1h-1zM336 393h1v1h-1zM334 393h3v1h-3zM334 395h3v1h-3zM334 394h1v1h-1zM336 394h1v1h-1zM334 394h3v1h-3zM334 396h3v1h-3zM334 395h1v1h-1zM336 395h1v1h-1zM335 391h3v1h-3zM335 393h3v1h-3zM335 392h1v1h-1zM337 392h1v1h-1zM335 392h3v1h-3zM335 394h3v1h-3zM335 393h1v1h-1zM337 393h1v1h-1zM335 393h3v1h-3zM335 395h3v1h-3zM335 394h1v1h-1zM337 394h1v1h-1zM335 394h3v1h-3zM335 396h3v1h-3zM335 395h1v1h-1zM337 395h1v1h-1zM335 395h3v1h-3zM335 397h3v1h-3zM335 396h1v1h-1zM337 396h1v1h-1zM336 391h3v1h-3zM336 393h3v1h-3zM336 392h1v1h-1zM338 392h1v1h-1zM336 392h3v1h-3zM336 394h3v1h-3zM336 393h1v1h-1zM338 393h1v1h-1zM336 393h3v1h-3zM336 395h3v1h-3zM336 394h1v1h-1zM338 394h1v1h-1zM336 394h3v1h-3zM336 396h3v1h-3zM336 395h1v1h-1zM338 395h1v1h-1zM336 395h3v1h-3zM336 397h3v1h-3zM336 396h1v1h-1zM338 396h1v1h-1zM337 391h3v1h-3zM337 393h3v1h-3zM337 392h1v1h-1zM339 392h1v1h-1zM337 392h3v1h-3zM337 394h3v1h-3zM337 393h1v1h-1zM339 393h1v1h-1zM337 393h3v1h-3zM337 395h3v1h-3zM337 394h1v1h-1zM339 394h1v1h-1zM337 394h3v1h-3zM337 396h3v1h-3zM337 395h1v1h-1zM339 395h1v1h-1zM337 395h3v1h-3zM337 397h3v1h-3zM337 396h1v1h-1zM339 396h1v1h-1zM338 391h3v1h-3zM338 393h3v1h-3zM338 392h1v1h-1zM340 392h1v1h-1zM338 392h3v1h-3zM338 394h3v1h-3zM338 393h1v1h-1zM340 393h1v1h-1zM338 393h3v1h-3zM338 395h3v1h-3zM338 394h1v1h-1zM340 394h1v1h-1zM338 394h3v1h-3zM338 396h3v1h-3zM338 395h1v1h-1zM340 395h1v1h-1zM338 395h3v1h-3zM338 397h3v1h-3zM338 396h1v1h-1zM340 396h1v1h-1zM339 391h3v1h-3zM339 393h3v1h-3zM339 392h1v1h-1zM341 392h1v1h-1zM339 392h3v1h-3zM339 394h3v1h-3zM339 393h1v1h-1zM341 393h1v1h-1zM339 393h3v1h-3zM339 395h3v1h-3zM339 394h1v1h-1zM341 394h1v1h-1zM339 394h3v1h-3zM339 396h3v1h-3zM339 395h1v1h-1zM341 395h1v1h-1zM340 391h3v1h-3zM340 393h3v1h-3zM340 392h1v1h-1zM342 392h1v1h-1zM340 392h3v1h-3zM340 394h3v1h-3zM340 393h1v1h-1zM342 393h1v1h-1zM340 393h3v1h-3zM340 395h3v1h-3zM340 394h1v1h-1zM342 394h1v1h-1zM340 394h3v1h-3zM340 396h3v1h-3zM340 395h1v1h-1zM342 395h1v1h-1zM341 391h3v1h-3zM341 393h3v1h-3zM341 392h1v1h-1zM343 392h1v1h-1zM341 392h3v1h-3zM341 394h3v1h-3zM341 393h1v1h-1zM343 393h1v1h-1zM341 393h3v1h-3zM341 395h3v1h-3zM341 394h1v1h-1zM343 394h1v1h-1zM341 394h3v1h-3zM341 396h3v1h-3zM341 395h1v1h-1zM343 395h1v1h-1zM341 395h3v1h-3zM341 397h3v1h-3zM341 396h1v1h-1zM343 396h1v1h-1zM342 391h3v1h-3zM342 393h3v1h-3zM342 392h1v1h-1zM344 392h1v1h-1zM342 392h3v1h-3zM342 394h3v1h-3zM342 393h1v1h-1zM344 393h1v1h-1zM342 393h3v1h-3zM342 395h3v1h-3zM342 394h1v1h-1zM344 394h1v1h-1zM342 394h3v1h-3zM342 396h3v1h-3zM342 395h1v1h-1zM344 395h1v1h-1zM342 395h3v1h-3zM342 397h3v1h-3zM342 396h1v1h-1zM344 396h1v1h-1zM343 391h3v1h-3zM343 393h3v1h-3zM343 392h1v1h-1zM345 392h1v1h-1zM343 392h3v1h-3zM343 394h3v1h-3zM343 393h1v1h-1zM345 393h1v1h-1zM343 395h3v1h-3zM343 397h3v1h-3zM343 396h1v1h-1zM345 396h1v1h-1zM344 391h3v1h-3zM344 393h3v1h-3zM344 392h1v1h-1zM346 392h1v1h-1zM344 392h3v1h-3zM344 394h3v1h-3zM344 393h1v1h-1zM346 393h1v1h-1zM344 393h3v1h-3zM344 395h3v1h-3zM344 394h1v1h-1zM346 394h1v1h-1zM344 394h3v1h-3zM344 396h3v1h-3zM344 395h1v1h-1zM346 395h1v1h-1zM344 395h3v1h-3zM344 397h3v1h-3zM344 396h1v1h-1zM346 396h1v1h-1zM345 391h3v1h-3zM345 393h3v1h-3zM345 392h1v1h-1zM347 392h1v1h-1zM345 392h3v1h-3zM345 394h3v1h-3zM345 393h1v1h-1zM347 393h1v1h-1zM345 393h3v1h-3zM345 395h3v1h-3zM345 394h1v1h-1zM347 394h1v1h-1zM345 394h3v1h-3zM345 396h3v1h-3zM345 395h1v1h-1zM347 395h1v1h-1zM346 391h3v1h-3zM346 393h3v1h-3zM346 392h1v1h-1zM348 392h1v1h-1zM346 392h3v1h-3zM346 394h3v1h-3zM346 393h1v1h-1zM348 393h1v1h-1zM346 393h3v1h-3zM346 395h3v1h-3zM346 394h1v1h-1zM348 394h1v1h-1zM347 391h3v1h-3zM347 393h3v1h-3zM347 392h1v1h-1zM349 392h1v1h-1zM347 392h3v1h-3zM347 394h3v1h-3zM347 393h1v1h-1zM349 393h1v1h-1zM347 393h3v1h-3zM347 395h3v1h-3zM347 394h1v1h-1zM349 394h1v1h-1zM347 394h3v1h-3zM347 396h3v1h-3zM347 395h1v1h-1zM349 395h1v1h-1zM348 391h3v1h-3zM348 393h3v1h-3zM348 392h1v1h-1zM350 392h1v1h-1zM348 392h3v1h-3zM348 394h3v1h-3zM348 393h1v1h-1zM350 393h1v1h-1zM348 393h3v1h-3zM348 395h3v1h-3zM348 394h1v1h-1zM350 394h1v1h-1zM349 391h3v1h-3zM349 393h3v1h-3zM349 392h1v1h-1zM351 392h1v1h-1zM349 392h3v1h-3zM349 394h3v1h-3zM349 393h1v1h-1zM351 393h1v1h-1zM349 393h3v1h-3zM349 395h3v1h-3zM349 394h1v1h-1zM351 394h1v1h-1zM349 395h3v1h-3zM349 397h3v1h-3zM349 396h1v1h-1zM351 396h1v1h-1zM350 392h3v1h-3zM350 394h3v1h-3zM350 393h1v1h-1zM352 393h1v1h-1zM350 393h3v1h-3zM350 395h3v1h-3zM350 394h1v1h-1zM352 394h1v1h-1zM350 394h3v1h-3zM350 396h3v1h-3zM350 395h1v1h-1zM352 395h1v1h-1zM350 395h3v1h-3zM350 397h3v1h-3zM350 396h1v1h-1zM352 396h1v1h-1zM351 393h3v1h-3zM351 395h3v1h-3zM351 394h1v1h-1zM353 394h1v1h-1zM351 394h3v1h-3zM351 396h3v1h-3zM351 395h1v1h-1zM353 395h1v1h-1zM351 395h3v1h-3zM351 397h3v1h-3zM351 396h1v1h-1zM353 396h1v1h-1zM352 391h3v1h-3zM352 393h3v1h-3zM352 392h1v1h-1zM354 392h1v1h-1zM352 392h3v1h-3zM352 394h3v1h-3zM352 393h1v1h-1zM354 393h1v1h-1zM352 393h3v1h-3zM352 395h3v1h-3zM352 394h1v1h-1zM354 394h1v1h-1zM352 394h3v1h-3zM352 396h3v1h-3zM352 395h1v1h-1zM354 395h1v1h-1zM353 391h3v1h-3zM353 393h3v1h-3zM353 392h1v1h-1zM355 392h1v1h-1zM353 392h3v1h-3zM353 394h3v1h-3zM353 393h1v1h-1zM355 393h1v1h-1zM353 393h3v1h-3zM353 395h3v1h-3zM353 394h1v1h-1zM355 394h1v1h-1zM354 391h3v1h-3zM354 393h3v1h-3zM354 392h1v1h-1zM356 392h1v1h-1zM354 394h3v1h-3zM354 396h3v1h-3zM354 395h1v1h-1zM356 395h1v1h-1zM354 395h3v1h-3zM354 397h3v1h-3zM354 396h1v1h-1zM356 396h1v1h-1zM355 391h3v1h-3zM355 393h3v1h-3zM355 392h1v1h-1zM357 392h1v1h-1zM355 392h3v1h-3zM355 394h3v1h-3zM355 393h1v1h-1zM357 393h1v1h-1zM355 395h3v1h-3zM355 397h3v1h-3zM355 396h1v1h-1zM357 396h1v1h-1zM356 391h3v1h-3zM356 393h3v1h-3zM356 392h1v1h-1zM358 392h1v1h-1zM356 392h3v1h-3zM356 394h3v1h-3zM356 393h1v1h-1zM358 393h1v1h-1zM356 393h3v1h-3zM356 395h3v1h-3zM356 394h1v1h-1zM358 394h1v1h-1zM356 394h3v1h-3zM356 396h3v1h-3zM356 395h1v1h-1zM358 395h1v1h-1zM357 392h3v1h-3zM357 394h3v1h-3zM357 393h1v1h-1zM359 393h1v1h-1zM357 394h3v1h-3zM357 396h3v1h-3zM357 395h1v1h-1zM359 395h1v1h-1zM358 391h3v1h-3zM358 393h3v1h-3zM358 392h1v1h-1zM360 392h1v1h-1zM358 392h3v1h-3zM358 394h3v1h-3zM358 393h1v1h-1zM360 393h1v1h-1zM358 393h3v1h-3zM358 395h3v1h-3zM358 394h1v1h-1zM360 394h1v1h-1zM358 394h3v1h-3zM358 396h3v1h-3zM358 395h1v1h-1zM360 395h1v1h-1zM359 391h3v1h-3zM359 393h3v1h-3zM359 392h1v1h-1zM361 392h1v1h-1zM359 392h3v1h-3zM359 394h3v1h-3zM359 393h1v1h-1zM361 393h1v1h-1zM359 393h3v1h-3zM359 395h3v1h-3zM359 394h1v1h-1zM361 394h1v1h-1zM359 394h3v1h-3zM359 396h3v1h-3zM359 395h1v1h-1zM361 395h1v1h-1zM360 392h3v1h-3zM360 394h3v1h-3zM360 393h1v1h-1zM362 393h1v1h-1zM360 395h3v1h-3zM360 397h3v1h-3zM360 396h1v1h-1zM362 396h1v1h-1zM361 392h3v1h-3zM361 394h3v1h-3zM361 393h1v1h-1zM363 393h1v1h-1zM362 391h3v1h-3zM362 393h3v1h-3zM362 392h1v1h-1zM364 392h1v1h-1zM362 393h3v1h-3zM362 395h3v1h-3zM362 394h1v1h-1zM364 394h1v1h-1zM363 391h3v1h-3zM363 393h3v1h-3zM363 392h1v1h-1zM365 392h1v1h-1zM363 392h3v1h-3zM363 394h3v1h-3zM363 393h1v1h-1zM365 393h1v1h-1zM364 391h3v1h-3zM364 393h3v1h-3zM364 392h1v1h-1zM366 392h1v1h-1zM364 394h3v1h-3zM364 396h3v1h-3zM364 395h1v1h-1zM366 395h1v1h-1zM369 391h3v1h-3zM369 393h3v1h-3zM369 392h1v1h-1zM371 392h1v1h-1zM370 391h3v1h-3zM370 393h3v1h-3zM370 392h1v1h-1zM372 392h1v1h-1z" fill="#ff0000"/>
<path d="M288 571h3v1h-3zM289 570h1v3h-1zM288 572h3v1h-3zM289 571h1v3h-1zM289 571h3v1h-3zM290 570h1v3h-1zM289 572h3v1h-3zM290 571h1v3h-1zM290 570h3v1h-3zM291 569h1v3h-1zM290 571h3v1h-3zM291 570h1v3h-1zM290 572h3v1h-3zM291 571h1v3h-1zM291 571h3v1h-3zM292 570h1v3h-1zM292 570h3v1h-3zM293 569h1v3h-1zM292 571h3v1h-3zM293 570h1v3h-1zM292 572h3v1h-3zM293 571h1v3h-1zM293 570h3v1h-3zM294 569h1v3h-1zM293 571h3v1h-3zM294 570h1v3h-1zM293 572h3v1h-3zM294 571h1v3h-1zM294 570h3v1h-3zM295 569h1v3h-1zM294 571h3v1h-3zM295 570h1v3h-1zM294 572h3v1h-3zM295 571h1v3h-1zM294 573h3v1h-3zM295 572h1v3h-1zM295 571h3v1h-3zM296 570h1v3h-1zM295 572h3v1h-3zM296 571h1v3h-1zM296 571h3v1h-3zM297 570h1v3h-1zM296 572h3v1h-3zM297 571h1v3h-1zM297 571h3v1h-3zM298 570h1v3h-1zM297 572h3v1h-3zM298 571h1v3h-1zM298 570h3v1h-3zM299 569h1v3h-1zM298 571h3v1h-3zM299 570h1v3h-1zM298 572h3v1h-3zM299 571h1v3h-1zM298 573h3v1h-3zM299 572h1v3h-1zM299 571h3v1h-3zM300 570h1v3h-1zM299 572h3v1h-3zM300 571h1v3h-1zM299 573h3v1h-3zM300 572h1v3h-1zM300 570h3v1h-3zM301 569h1v3h-1zM300 571h3v1h-3zM301 570h1v3h-1zM300 572h3v1h-3zM301 571h1v3h-1zM300 573h3v1h-3zM301 572h1v3h-1zM301 570h3v1h-3zM302 569h1v3h-1zM301 571h3v1h-3zM302 570h1v3h-1zM301 572h3v1h-3zM302 571h1v3h-1zM301 573h3v1h-3zM302 572h1v3h-1zM302 570h3v1h-3zM303 569h1v3h-1zM302 571h3v1h-3zM303 570h1v3h-1zM302 572h3v1h-3zM303 571h1v3h-1zM302 573h3v1h-3zM303 572h1v3h-1zM303 570h3v1h-3zM304 569h1v3h-1zM303 571h3v1h-3zM304 570h1v3h-1zM303 572h3v1h-3zM304 571h1v3h-1zM303 573h3v1h-3zM304 572h1v3h-1zM304 570h3v1h-3zM305 569h1v3h-1zM304 571h3v1h-3zM305 570h1v3h-1zM304 572h3v1h-3zM305 571h1v3h-1zM304 573h3v1h-3zM305 572h1v3h-1zM305 570h3v1h-3zM306 569h1v3h-1zM305 571h3v1h-3zM306 570h1v3h-1zM305 572h3v1h-3zM306 571h1v3h-1zM305 573h3v1h-3zM306 572h1v3h-1zM306 570h3v1h-3zM307 569h1v3h-1zM306 571h3v1h-3zM307 570h1v3h-1zM306 572h3v1h-3zM307 571h1v3h-1zM306 573h3v1h-3zM307 572h1v3h-1zM307 571h3v1h-3zM308 570h1v3h-1zM307 572h3v1h-3zM308 571h1v3h-1zM307 573h3v1h-3zM308 572h1v3h-1zM308 570h3v1h-3zM309 569h1v3h-1zM308 571h3v1h-3zM309 570h1v3h-1zM308 572h3v1h-3zM309 571h1v3h-1zM308 573h3v1h-3zM309 572h1v3h-1zM309 570h3v1h-3zM310 569h1v3h-1zM309 571h3v1h-3zM310 570h1v3h-1zM309 572h3v1h-3zM310 571h1v3h-1zM309 573h3v1h-3zM310 572h1v3h-1zM310 570h3v1h-3zM311 569h1v3h-1zM310 571h3v1h-3zM311 570h1v3h-1zM310 572h3v1h-3zM311 571h1v3h-1zM310 573h3v1h-3zM311 572h1v3h-1zM311 570h3v1h-3zM312 569h1v3h-1zM311 571h3v1h-3zM312 570h1v3h-1zM311 572h3v1h-3zM312 571h1v3h-1zM311 573h3v1h-3zM312 572h1v3h-1zM312 570h3v1h-3zM313 569h1v3h-1zM312 571h3v1h-3zM313 570h1v3h-1zM312 572h3v1h-3zM313 571h1v3h-1zM312 573h3v1h-3zM313 572h1v3h-1zM313 570h3v1h-3zM314 569h1v3h-1zM313 571h3v1h-3zM314 570h1v3h-1zM313 572h3v1h-3zM314 571h1v3h-1zM313 573h3v1h-3zM314 572h1v3h-1zM314 570h3v1h-3zM315 569h1v3h-1zM314 571h3v1h-3zM315 570h1v3h-1zM314 572h3v1h-3zM315 571h1v3h-1zM314 573h3v1h-3zM315 572h1v3h-1zM315 570h3v1h-3zM316 569h1v3h-1zM315 571h3v1h-3zM316 570h1v3h-1zM315 572h3v1h-3zM316 571h1v3h-1zM316 571h3v1h-3zM317 570h1v3h-1zM316 572h3v1h-3zM317 571h1v3h-1zM316 573h3v1h-3zM317 572h1v3h-1zM317 570h3v1h-3zM318 569h1v3h-1zM317 571h3v1h-3zM318 570h1v3h-1zM317 572h3v1h-3zM318 571h1v3h-1zM317 573h3v1h-3zM318 572h1v3h-1zM318 570h3v1h-3zM319 569h1v3h-1zM318 571h3v1h-3zM319 570h1v3h-1zM318 572h3v1h-3zM319 571h1v3h-1zM318 573h3v1h-3zM319 572h1v3h-1zM319 571h3v1h-3zM320 570h1v3h-1zM319 572h3v1h-3zM320 571h1v3h-1zM320 570h3v1h-3zM321 569h1v3h-1zM320 571h3v1h-3zM321 570h1v3h-1zM320 572h3v1h-3zM321 571h1v3h-1zM321 570h3v1h-3zM322 569h1v3h-1zM321 571h3v1h-3zM322 570h1v3h-1zM321 572h3v1h-3zM322 571h1v3h-1zM321 573h3v1h-3zM322 572h1v3h-1zM322 571h3v1h-3zM323 570h1v3h-1zM322 572h3v1h-3zM323 571h1v3h-1zM322 573h3v1h-3zM323 572h1v3h-1zM323 570h3v1h-3zM324 569h1v3h-1zM323 571h3v1h-3zM324 570h1v3h-1zM323 572h3v1h-3zM324 571h1v3h-1zM323 573h3v1h-3zM324 572h1v3h-1zM324 571h3v1h-3zM325 570h1v3h-1zM324 572h3v1h-3zM325 571h1v3h-1zM325 570h3v1h-3zM326 569h1v3h-1zM325 571h3v1h-3zM326 570h1v3h-1zM325 572h3v1h-3zM326 571h1v3h-1zM326 571h3v1h-3zM327 570h1v3h-1zM326 572h3v1h-3zM327 571h1v3h-1zM326 573h3v1h-3zM327 572h1v3h-1zM327 570h3v1h-3zM328 569h1v3h-1zM327 571h3v1h-3zM328 570h1v3h-1zM328 571h3v1h-3zM329 570h1v3h-1zM328 572h3v1h-3zM329 571h1v3h-1zM329 570h3v1h-3zM330 569h1v3h-1zM329 571h3v1h-3zM330 570h1v3h-1zM329 572h3v1h-3zM330 571h1v3h-1zM329 573h3v1h-3zM330 572h1v3h-1zM330 573h3v1h-3zM331 572h1v3h-1zM331 571h3v1h-3zM332 570h1v3h-1zM331 572h3v1h-3zM332 571h1v3h-1zM332 572h3v1h-3zM333 571h1v3h-1zM333 571h3v1h-3zM334 570h1v3h-1zM334 573h3v1h-3zM335 572h1v3h-1zM335 571h3v1h-3zM336 570h1v3h-1zM336 572h3v1h-3zM337 571h1v3h-1zM339 570h3v1h-3zM340 569h1v3h-1zM341 571h3v1h-3zM342 570h1v3h-1z" fill="#4169e1"/>
<text transform="translate(54.0 104) scale(0.93 1)" font-size="13.8" text-anchor="end">0.3</text>
<text transform="translate(54.0 143) scale(0.93 1)" font-size="13.8" text-anchor="end">0.2</text>
<text transform="translate(54.0 182) scale(0.93 1)" font-size="13.8" text-anchor="end">0.1</text>
<text transform="translate(54.0 221) scale(0.93 1)" font-size="13.8" text-anchor="end">0.0</text>
<text transform="translate(54.0 461) scale(0.93 1)" font-size="13.8" text-anchor="end">0.3</text>
<text transform="translate(54.0 500) scale(0.93 1)" font-size="13.8" text-anchor="end">0.2</text>
<text transform="translate(54.0 539) scale(0.93 1)" font-size="13.8" text-anchor="end">0.1</text>
<text transform="translate(54.0 579) scale(0.93 1)" font-size="13.8" text-anchor="end">0.0</text>
<text transform="translate(611.0 282) scale(0.93 1)" font-size="13.8" text-anchor="start">0.3</text>
<text transform="translate(611.0 322) scale(0.93 1)" font-size="13.8" text-anchor="start">0.2</text>
<text transform="translate(611.0 361) scale(0.93 1)" font-size="13.8" text-anchor="start">0.1</text>
<text transform="translate(611.0 400) scale(0.93 1)" font-size="13.8" text-anchor="start">0.0</text>
<text transform="translate(109.7 609) scale(0.93 1)" font-size="13.8" text-anchor="middle">0</text>
<text transform="translate(233.7 609) scale(0.93 1)" font-size="13.8" text-anchor="middle">20</text>
<text transform="translate(358.7 609) scale(0.93 1)" font-size="13.8" text-anchor="middle">40</text>
<text transform="translate(483.7 609) scale(0.93 1)" font-size="13.8" text-anchor="middle">60</text>
<text x="333.3" y="63" font-size="16" text-anchor="middle" >Broad</text>
<text x="332.9" y="242" font-size="16" text-anchor="middle" textLength="87" lengthAdjust="spacingAndGlyphs">Intermediate</text>
<text x="333.2" y="420" font-size="16" text-anchor="middle" >Narrow</text>
<text y="637" font-size="16"><tspan x="162.7">MCMC</tspan> <tspan x="216.6">model</tspan> <tspan x="263.7" textLength="36.2" lengthAdjust="spacingAndGlyphs">value</tspan> <tspan x="303.5">of</tspan> <tspan x="320.8" textLength="77.3" lengthAdjust="spacingAndGlyphs">predictable</tspan> <tspan x="403.0" textLength="53.7" lengthAdjust="spacingAndGlyphs">function</tspan> <tspan x="460.0" textLength="17.7" lengthAdjust="spacingAndGlyphs">for</tspan> <tspan x="481.7" textLength="17.8" lengthAdjust="spacingAndGlyphs">A1</tspan></text>
<text x="0" y="0" font-size="16" text-anchor="middle" transform="translate(21 324.5) rotate(-90)">Density</text>
</svg>
</body></html>
